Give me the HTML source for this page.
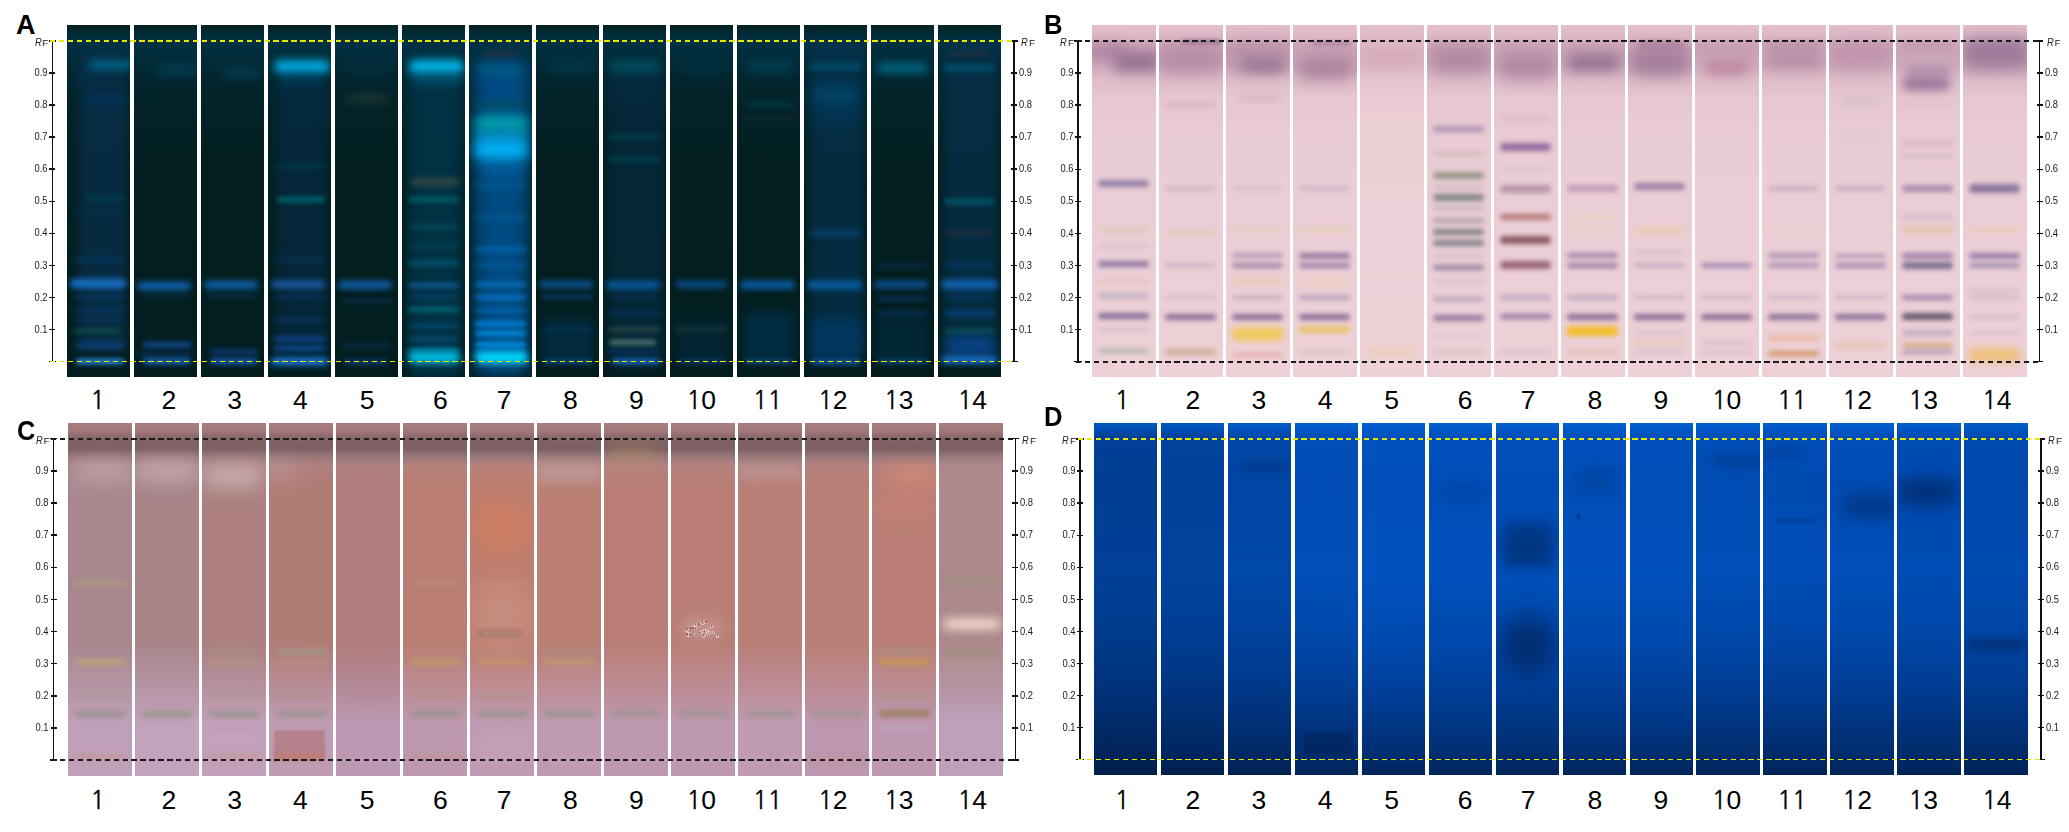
<!DOCTYPE html><html><head><meta charset="utf-8"><style>
html,body{margin:0;padding:0;background:#fff;width:2069px;height:832px;overflow:hidden;position:relative}
.ln{position:absolute;overflow:hidden}
.ln i{position:absolute;display:block}
.t{position:absolute;font-family:"Liberation Sans",Arial,sans-serif;color:#000;white-space:nowrap;line-height:1}
.num{font-size:26.5px}
.o{font-family:"NanumGothic","Liberation Sans",sans-serif;font-size:24.5px;-webkit-text-stroke:0.3px #000}
.let{font-size:27px;font-weight:bold}
.tk{font-size:10.4px;color:#1a1a1a;transform:scaleX(0.9)}
.rf{font-size:10.8px;color:#222}
.rf em{font-style:italic;display:inline-block;transform:scaleX(0.86);transform-origin:100% 50%}
.rf small{font-size:9.8px;font-style:normal;margin-left:0.9px}
.k{position:absolute;background:#111}
</style></head><body>
<div class="ln" style="left:66.50px;top:25.20px;width:63.50px;height:352.00px;background:linear-gradient(to bottom, rgb(4,34,34) 0px, rgb(2,42,52) 9px, rgb(1,50,68) 17px, rgb(2,44,58) 30px, rgb(3,36,44) 60px, rgb(3,31,33) 130px, rgb(3,30,30) 250px, rgb(3,30,32) 330px, rgb(3,27,28) 352px)">
<i style="left:12.7px;top:26.1px;width:47.6px;height:300.0px;background:rgba(8,48,80,0.7);border-radius:10.0px;filter:blur(6px)"></i>
<i style="left:22.2px;top:35.7px;width:44.5px;height:8.1px;background:rgba(0,110,150,0.9);border-radius:4.1px;filter:blur(4.25px)"></i>
<i style="left:19.1px;top:69.4px;width:41.3px;height:8.1px;background:rgba(5,60,110,0.5);border-radius:4.1px;filter:blur(4.25px)"></i>
<i style="left:19.1px;top:170.8px;width:38.1px;height:4.1px;background:rgba(0,90,100,0.5);border-radius:2.0px;filter:blur(2.55px)"></i>
<i style="left:6.4px;top:186.9px;width:50.8px;height:4.1px;background:rgba(5,60,90,0.4);border-radius:2.0px;filter:blur(2.55px)"></i>
<i style="left:6.4px;top:231.1px;width:50.8px;height:5.4px;background:rgba(5,60,110,0.5);border-radius:2.7px;filter:blur(2.55px)"></i>
<i style="left:3.2px;top:253.4px;width:55.9px;height:9.5px;background:rgba(25,115,205,1);border-radius:4.7px;filter:blur(3.4px)"></i>
<i style="left:6.4px;top:270.2px;width:50.8px;height:4.1px;background:rgba(10,60,120,0.6);border-radius:2.0px;filter:blur(2.55px)"></i>
<i style="left:6.4px;top:283.1px;width:50.8px;height:4.1px;background:rgba(10,60,120,0.6);border-radius:2.0px;filter:blur(2.55px)"></i>
<i style="left:6.4px;top:292.7px;width:50.8px;height:4.1px;background:rgba(10,60,120,0.5);border-radius:2.0px;filter:blur(2.55px)"></i>
<i style="left:6.4px;top:304.2px;width:47.6px;height:4.1px;background:rgba(20,100,80,0.7);border-radius:2.0px;filter:blur(2.55px)"></i>
<i style="left:9.5px;top:317.0px;width:47.6px;height:6.8px;background:rgba(15,75,150,0.7);border-radius:3.4px;filter:blur(3.4px)"></i>
<i style="left:9.5px;top:333.7px;width:47.6px;height:5.4px;background:rgba(40,150,240,1);border-radius:2.7px;filter:blur(2.55px)"></i>
</div>
<div class="t num" style="left:90.3px;top:387.0px"><span class="o">1</span></div>
<div class="ln" style="left:133.50px;top:25.20px;width:63.50px;height:352.00px;background:linear-gradient(to bottom, rgb(4,34,34) 0px, rgb(2,42,52) 9px, rgb(1,50,68) 17px, rgb(2,44,58) 30px, rgb(3,36,44) 60px, rgb(3,31,33) 130px, rgb(3,30,30) 250px, rgb(3,30,32) 330px, rgb(3,27,28) 352px)">
<i style="left:22.2px;top:40.5px;width:41.3px;height:8.1px;background:rgba(0,80,110,0.7);border-radius:4.1px;filter:blur(5.1px)"></i>
<i style="left:3.2px;top:256.7px;width:54.0px;height:8.1px;background:rgba(15,100,180,1);border-radius:4.1px;filter:blur(3.4px)"></i>
<i style="left:6.4px;top:270.2px;width:50.8px;height:4.1px;background:rgba(10,60,120,0.4);border-radius:2.0px;filter:blur(2.55px)"></i>
<i style="left:9.5px;top:317.0px;width:47.6px;height:5.4px;background:rgba(15,75,150,0.9);border-radius:2.7px;filter:blur(2.55px)"></i>
<i style="left:6.4px;top:327.3px;width:50.8px;height:5.4px;background:rgba(10,60,120,0.5);border-radius:2.7px;filter:blur(2.55px)"></i>
<i style="left:9.5px;top:334.0px;width:47.6px;height:4.7px;background:rgba(25,110,210,1);border-radius:2.4px;filter:blur(2.55px)"></i>
</div>
<div class="t num" style="left:161.4px;top:387.0px">2</div>
<div class="ln" style="left:200.50px;top:25.20px;width:63.50px;height:352.00px;background:linear-gradient(to bottom, rgb(4,34,34) 0px, rgb(2,42,52) 9px, rgb(1,50,68) 17px, rgb(2,44,58) 30px, rgb(3,36,44) 60px, rgb(3,31,33) 130px, rgb(3,30,30) 250px, rgb(3,30,32) 330px, rgb(3,27,28) 352px)">
<i style="left:22.2px;top:43.7px;width:38.1px;height:8.1px;background:rgba(0,75,105,0.7);border-radius:4.1px;filter:blur(5.1px)"></i>
<i style="left:3.2px;top:255.4px;width:54.0px;height:8.1px;background:rgba(15,98,175,1);border-radius:4.1px;filter:blur(3.4px)"></i>
<i style="left:6.4px;top:268.6px;width:50.8px;height:4.1px;background:rgba(10,60,120,0.5);border-radius:2.0px;filter:blur(2.55px)"></i>
<i style="left:9.5px;top:324.1px;width:47.6px;height:5.4px;background:rgba(15,65,140,0.7);border-radius:2.7px;filter:blur(2.55px)"></i>
<i style="left:9.5px;top:334.0px;width:47.6px;height:4.7px;background:rgba(25,100,200,1);border-radius:2.4px;filter:blur(2.55px)"></i>
</div>
<div class="t num" style="left:227.3px;top:387.0px">3</div>
<div class="ln" style="left:267.50px;top:25.20px;width:63.50px;height:352.00px;background:linear-gradient(to bottom, rgb(4,34,34) 0px, rgb(2,42,52) 9px, rgb(1,50,68) 17px, rgb(2,44,58) 30px, rgb(3,36,44) 60px, rgb(3,31,33) 130px, rgb(3,30,30) 250px, rgb(3,30,32) 330px, rgb(3,27,28) 352px)">
<i style="left:9.5px;top:52.1px;width:50.8px;height:280.0px;background:rgba(5,45,75,0.6);border-radius:10.0px;filter:blur(6px)"></i>
<i style="left:6.4px;top:35.3px;width:55.9px;height:12.2px;background:rgba(0,170,225,1);border-radius:6.1px;filter:blur(4.25px)"></i>
<i style="left:9.5px;top:50.1px;width:47.6px;height:8.1px;background:rgba(0,90,130,0.5);border-radius:4.1px;filter:blur(5.1px)"></i>
<i style="left:6.4px;top:138.7px;width:50.8px;height:4.1px;background:rgba(0,70,90,0.6);border-radius:2.0px;filter:blur(2.55px)"></i>
<i style="left:9.5px;top:171.7px;width:47.6px;height:5.4px;background:rgba(0,110,120,0.9);border-radius:2.7px;filter:blur(2.55px)"></i>
<i style="left:6.4px;top:231.8px;width:50.8px;height:4.1px;background:rgba(10,60,120,0.5);border-radius:2.0px;filter:blur(2.55px)"></i>
<i style="left:3.2px;top:256.1px;width:54.0px;height:6.8px;background:rgba(25,95,175,1);border-radius:3.4px;filter:blur(3.4px)"></i>
<i style="left:6.4px;top:270.2px;width:50.8px;height:4.1px;background:rgba(10,60,120,0.6);border-radius:2.0px;filter:blur(2.55px)"></i>
<i style="left:6.4px;top:292.7px;width:50.8px;height:4.1px;background:rgba(10,60,120,0.6);border-radius:2.0px;filter:blur(2.55px)"></i>
<i style="left:6.4px;top:311.3px;width:50.8px;height:5.4px;background:rgba(15,70,150,0.8);border-radius:2.7px;filter:blur(2.55px)"></i>
<i style="left:6.4px;top:320.9px;width:50.8px;height:5.4px;background:rgba(15,80,170,0.8);border-radius:2.7px;filter:blur(2.55px)"></i>
<i style="left:3.2px;top:333.0px;width:57.1px;height:6.8px;background:rgba(30,130,240,1);border-radius:3.4px;filter:blur(3.4px)"></i>
</div>
<div class="t num" style="left:292.9px;top:387.0px">4</div>
<div class="ln" style="left:334.50px;top:25.20px;width:63.50px;height:352.00px;background:linear-gradient(to bottom, rgb(4,34,34) 0px, rgb(2,42,52) 9px, rgb(1,50,68) 17px, rgb(2,44,58) 30px, rgb(3,36,44) 60px, rgb(3,31,33) 130px, rgb(3,30,30) 250px, rgb(3,30,32) 330px, rgb(3,27,28) 352px)">
<i style="left:12.7px;top:38.9px;width:44.4px;height:8.1px;background:rgba(0,60,80,0.5);border-radius:4.1px;filter:blur(5.1px)"></i>
<i style="left:12.7px;top:70.1px;width:41.3px;height:6.8px;background:rgba(40,60,55,0.8);border-radius:3.4px;filter:blur(4.25px)"></i>
<i style="left:3.2px;top:255.4px;width:54.0px;height:8.1px;background:rgba(15,95,170,1);border-radius:4.1px;filter:blur(3.4px)"></i>
<i style="left:6.4px;top:273.4px;width:50.8px;height:4.1px;background:rgba(10,60,120,0.5);border-radius:2.0px;filter:blur(2.55px)"></i>
<i style="left:6.4px;top:317.7px;width:50.8px;height:5.4px;background:rgba(10,60,120,0.4);border-radius:2.7px;filter:blur(2.55px)"></i>
<i style="left:9.5px;top:334.4px;width:44.4px;height:4.1px;background:rgba(20,80,160,0.8);border-radius:2.0px;filter:blur(2.55px)"></i>
</div>
<div class="t num" style="left:359.7px;top:387.0px">5</div>
<div class="ln" style="left:401.50px;top:25.20px;width:63.50px;height:352.00px;background:linear-gradient(to bottom, rgb(4,34,34) 0px, rgb(2,42,52) 9px, rgb(1,50,68) 17px, rgb(2,44,58) 30px, rgb(3,36,44) 60px, rgb(3,31,33) 130px, rgb(3,30,30) 250px, rgb(3,30,32) 330px, rgb(3,27,28) 352px)">
<i style="left:7.6px;top:27.1px;width:52.7px;height:330.0px;background:rgba(0,52,72,0.9);border-radius:10.0px;filter:blur(7px)"></i>
<i style="left:7.6px;top:35.3px;width:54.6px;height:12.2px;background:rgba(0,185,235,1);border-radius:6.1px;filter:blur(4.25px)"></i>
<i style="left:9.5px;top:48.5px;width:52.7px;height:8.1px;background:rgba(0,120,160,0.6);border-radius:4.1px;filter:blur(5.1px)"></i>
<i style="left:9.5px;top:153.4px;width:47.6px;height:6.8px;background:rgba(70,80,70,0.9);border-radius:3.4px;filter:blur(3.4px)"></i>
<i style="left:6.4px;top:171.7px;width:50.8px;height:5.4px;background:rgba(0,105,115,0.8);border-radius:2.7px;filter:blur(2.55px)"></i>
<i style="left:6.4px;top:199.7px;width:50.8px;height:4.1px;background:rgba(0,95,115,0.6);border-radius:2.0px;filter:blur(2.55px)"></i>
<i style="left:6.4px;top:218.9px;width:50.8px;height:4.1px;background:rgba(0,80,110,0.5);border-radius:2.0px;filter:blur(2.55px)"></i>
<i style="left:6.4px;top:235.2px;width:50.8px;height:5.4px;background:rgba(0,90,120,0.7);border-radius:2.7px;filter:blur(2.55px)"></i>
<i style="left:6.4px;top:257.7px;width:50.8px;height:5.4px;background:rgba(20,100,170,0.8);border-radius:2.7px;filter:blur(2.55px)"></i>
<i style="left:6.4px;top:270.2px;width:50.8px;height:4.1px;background:rgba(10,80,140,0.5);border-radius:2.0px;filter:blur(2.55px)"></i>
<i style="left:6.4px;top:281.7px;width:50.8px;height:5.4px;background:rgba(0,115,135,0.8);border-radius:2.7px;filter:blur(2.55px)"></i>
<i style="left:6.4px;top:299.1px;width:50.8px;height:4.1px;background:rgba(10,90,145,0.6);border-radius:2.0px;filter:blur(2.55px)"></i>
<i style="left:6.4px;top:311.9px;width:50.8px;height:4.1px;background:rgba(10,100,155,0.6);border-radius:2.0px;filter:blur(2.55px)"></i>
<i style="left:6.4px;top:322.5px;width:50.8px;height:5.4px;background:rgba(0,140,190,0.7);border-radius:2.7px;filter:blur(2.55px)"></i>
<i style="left:6.4px;top:327.2px;width:52.1px;height:10.8px;background:rgba(0,195,232,1);border-radius:5.4px;filter:blur(3.74px)"></i>
</div>
<div class="t num" style="left:433.1px;top:387.0px">6</div>
<div class="ln" style="left:468.50px;top:25.20px;width:63.50px;height:352.00px;background:linear-gradient(to bottom, rgb(4,34,34) 0px, rgb(2,42,52) 9px, rgb(1,50,68) 17px, rgb(2,44,58) 30px, rgb(3,36,44) 60px, rgb(3,31,33) 130px, rgb(3,30,30) 250px, rgb(3,30,32) 330px, rgb(3,27,28) 352px)">
<i style="left:6.4px;top:32.1px;width:54.0px;height:320.0px;background:rgba(0,80,140,0.9);border-radius:10.0px;filter:blur(8px)"></i>
<i style="left:15.9px;top:26.5px;width:34.9px;height:4.1px;background:rgba(80,40,50,0.6);border-radius:2.0px;filter:blur(2.55px)"></i>
<i style="left:9.5px;top:41.2px;width:44.4px;height:6.8px;background:rgba(0,100,130,0.8);border-radius:3.4px;filter:blur(4.25px)"></i>
<i style="left:6.4px;top:75.8px;width:50.8px;height:8.1px;background:rgba(0,80,90,0.6);border-radius:4.1px;filter:blur(2.55px)"></i>
<i style="left:5.1px;top:91.0px;width:55.2px;height:14.9px;background:rgba(0,165,175,1);border-radius:7.4px;filter:blur(5.1px)"></i>
<i style="left:5.1px;top:104.9px;width:55.2px;height:10.8px;background:rgba(0,145,185,0.9);border-radius:5.4px;filter:blur(5.1px)"></i>
<i style="left:4.4px;top:113.3px;width:55.9px;height:23.0px;background:rgba(0,172,240,1);border-radius:11.5px;filter:blur(5.95px)"></i>
<i style="left:9.5px;top:138.6px;width:47.6px;height:10.8px;background:rgba(0,100,170,0.7);border-radius:5.4px;filter:blur(5.1px)"></i>
<i style="left:6.4px;top:156.6px;width:50.8px;height:6.8px;background:rgba(0,95,160,0.5);border-radius:3.4px;filter:blur(2.55px)"></i>
<i style="left:6.4px;top:188.7px;width:50.8px;height:6.8px;background:rgba(0,90,150,0.5);border-radius:3.4px;filter:blur(2.55px)"></i>
<i style="left:6.4px;top:221.5px;width:50.8px;height:5.4px;background:rgba(0,110,190,0.7);border-radius:2.7px;filter:blur(2.55px)"></i>
<i style="left:6.4px;top:237.5px;width:50.8px;height:5.4px;background:rgba(0,100,175,0.5);border-radius:2.7px;filter:blur(2.55px)"></i>
<i style="left:6.4px;top:256.7px;width:50.8px;height:5.4px;background:rgba(10,120,205,0.8);border-radius:2.7px;filter:blur(2.55px)"></i>
<i style="left:6.4px;top:269.6px;width:50.8px;height:5.4px;background:rgba(10,120,210,0.8);border-radius:2.7px;filter:blur(2.55px)"></i>
<i style="left:6.4px;top:282.4px;width:50.8px;height:5.4px;background:rgba(0,115,200,0.6);border-radius:2.7px;filter:blur(2.55px)"></i>
<i style="left:6.4px;top:296.2px;width:50.8px;height:5.4px;background:rgba(0,130,220,0.9);border-radius:2.7px;filter:blur(2.55px)"></i>
<i style="left:6.4px;top:306.1px;width:50.8px;height:4.7px;background:rgba(0,145,232,1);border-radius:2.4px;filter:blur(2.55px)"></i>
<i style="left:6.4px;top:316.7px;width:50.8px;height:5.4px;background:rgba(0,150,240,1);border-radius:2.7px;filter:blur(2.55px)"></i>
<i style="left:6.4px;top:324.8px;width:50.8px;height:4.1px;background:rgba(0,130,220,0.8);border-radius:2.0px;filter:blur(2.55px)"></i>
<i style="left:6.4px;top:327.2px;width:52.7px;height:10.8px;background:rgba(0,222,255,1);border-radius:5.4px;filter:blur(3.74px)"></i>
</div>
<div class="t num" style="left:496.7px;top:387.0px">7</div>
<div class="ln" style="left:535.50px;top:25.20px;width:63.50px;height:352.00px;background:linear-gradient(to bottom, rgb(4,34,34) 0px, rgb(2,42,52) 9px, rgb(1,50,68) 17px, rgb(2,44,58) 30px, rgb(3,36,44) 60px, rgb(3,31,33) 130px, rgb(3,30,30) 250px, rgb(3,30,32) 330px, rgb(3,27,28) 352px)">
<i style="left:7.6px;top:291.5px;width:49.5px;height:45.0px;background:rgba(0,48,75,0.7);border-radius:6.0px;filter:blur(6px)"></i>
<i style="left:12.7px;top:37.3px;width:44.4px;height:8.1px;background:rgba(0,70,90,0.6);border-radius:4.1px;filter:blur(5.1px)"></i>
<i style="left:3.2px;top:256.1px;width:54.0px;height:6.8px;background:rgba(10,85,150,1);border-radius:3.4px;filter:blur(3.4px)"></i>
<i style="left:6.4px;top:270.2px;width:50.8px;height:4.1px;background:rgba(10,70,130,0.8);border-radius:2.0px;filter:blur(2.55px)"></i>
<i style="left:6.4px;top:302.3px;width:50.8px;height:4.1px;background:rgba(10,60,120,0.3);border-radius:2.0px;filter:blur(2.55px)"></i>
<i style="left:7.6px;top:334.7px;width:49.5px;height:3.4px;background:rgba(20,100,180,0.9);border-radius:1.7px;filter:blur(2.55px)"></i>
</div>
<div class="t num" style="left:563.0px;top:387.0px">8</div>
<div class="ln" style="left:602.50px;top:25.20px;width:63.50px;height:352.00px;background:linear-gradient(to bottom, rgb(4,34,34) 0px, rgb(2,42,52) 9px, rgb(1,50,68) 17px, rgb(2,44,58) 30px, rgb(3,36,44) 60px, rgb(3,31,33) 130px, rgb(3,30,30) 250px, rgb(3,30,32) 330px, rgb(3,27,28) 352px)">
<i style="left:6.4px;top:42.1px;width:54.0px;height:300.0px;background:rgba(5,45,70,0.6);border-radius:10.0px;filter:blur(6px)"></i>
<i style="left:6.4px;top:36.6px;width:50.8px;height:9.5px;background:rgba(0,95,120,0.9);border-radius:4.7px;filter:blur(5.1px)"></i>
<i style="left:6.4px;top:109.9px;width:50.8px;height:4.1px;background:rgba(0,80,90,0.6);border-radius:2.0px;filter:blur(2.55px)"></i>
<i style="left:6.4px;top:132.3px;width:50.8px;height:4.1px;background:rgba(0,80,90,0.6);border-radius:2.0px;filter:blur(2.55px)"></i>
<i style="left:3.2px;top:255.4px;width:54.0px;height:8.1px;background:rgba(10,90,160,1);border-radius:4.1px;filter:blur(3.4px)"></i>
<i style="left:6.4px;top:270.2px;width:50.8px;height:4.1px;background:rgba(10,60,120,0.4);border-radius:2.0px;filter:blur(2.55px)"></i>
<i style="left:6.4px;top:286.3px;width:50.8px;height:4.1px;background:rgba(10,60,120,0.5);border-radius:2.0px;filter:blur(2.55px)"></i>
<i style="left:6.4px;top:302.3px;width:50.8px;height:4.1px;background:rgba(60,90,80,0.6);border-radius:2.0px;filter:blur(2.55px)"></i>
<i style="left:6.4px;top:314.5px;width:47.6px;height:5.4px;background:rgba(80,120,115,1);border-radius:2.7px;filter:blur(2.55px)"></i>
<i style="left:6.4px;top:324.8px;width:50.8px;height:4.1px;background:rgba(10,60,120,0.6);border-radius:2.0px;filter:blur(2.55px)"></i>
<i style="left:9.5px;top:334.0px;width:47.6px;height:4.7px;background:rgba(25,110,210,1);border-radius:2.4px;filter:blur(2.55px)"></i>
</div>
<div class="t num" style="left:629.0px;top:387.0px">9</div>
<div class="ln" style="left:669.50px;top:25.20px;width:63.50px;height:352.00px;background:linear-gradient(to bottom, rgb(4,34,34) 0px, rgb(2,42,52) 9px, rgb(1,50,68) 17px, rgb(2,44,58) 30px, rgb(3,36,44) 60px, rgb(3,31,33) 130px, rgb(3,30,30) 250px, rgb(3,30,32) 330px, rgb(3,27,28) 352px)">
<i style="left:7.6px;top:291.5px;width:49.5px;height:45.0px;background:rgba(0,42,65,0.6);border-radius:6.0px;filter:blur(6px)"></i>
<i style="left:9.5px;top:37.3px;width:47.6px;height:8.1px;background:rgba(0,60,80,0.5);border-radius:4.1px;filter:blur(5.1px)"></i>
<i style="left:6.4px;top:256.1px;width:50.8px;height:6.8px;background:rgba(10,80,145,1);border-radius:3.4px;filter:blur(3.4px)"></i>
<i style="left:6.4px;top:302.3px;width:50.8px;height:4.1px;background:rgba(40,70,60,0.5);border-radius:2.0px;filter:blur(2.55px)"></i>
<i style="left:7.6px;top:334.7px;width:49.5px;height:3.4px;background:rgba(15,80,150,0.8);border-radius:1.7px;filter:blur(2.55px)"></i>
</div>
<div class="t num" style="left:686.5px;top:387.0px"><span class="o">1</span>0</div>
<div class="ln" style="left:736.50px;top:25.20px;width:63.50px;height:352.00px;background:linear-gradient(to bottom, rgb(4,34,34) 0px, rgb(2,42,52) 9px, rgb(1,50,68) 17px, rgb(2,44,58) 30px, rgb(3,36,44) 60px, rgb(3,31,33) 130px, rgb(3,30,30) 250px, rgb(3,30,32) 330px, rgb(3,27,28) 352px)">
<i style="left:7.6px;top:285.7px;width:49.5px;height:50.0px;background:rgba(0,50,80,0.7);border-radius:6.0px;filter:blur(6px)"></i>
<i style="left:9.5px;top:37.3px;width:47.6px;height:8.1px;background:rgba(0,80,110,0.7);border-radius:4.1px;filter:blur(5.1px)"></i>
<i style="left:9.5px;top:77.1px;width:47.6px;height:5.4px;background:rgba(0,75,90,0.5);border-radius:2.7px;filter:blur(3.4px)"></i>
<i style="left:6.4px;top:90.6px;width:50.8px;height:4.1px;background:rgba(40,50,50,0.4);border-radius:2.0px;filter:blur(2.55px)"></i>
<i style="left:3.2px;top:255.4px;width:55.2px;height:8.1px;background:rgba(10,95,170,1);border-radius:4.1px;filter:blur(3.4px)"></i>
<i style="left:7.6px;top:334.7px;width:49.5px;height:3.4px;background:rgba(20,100,180,0.9);border-radius:1.7px;filter:blur(2.55px)"></i>
</div>
<div class="t num" style="left:752.7px;top:387.0px"><span class="o">1</span><span class="o">1</span></div>
<div class="ln" style="left:803.50px;top:25.20px;width:63.50px;height:352.00px;background:linear-gradient(to bottom, rgb(4,34,34) 0px, rgb(2,42,52) 9px, rgb(1,50,68) 17px, rgb(2,44,58) 30px, rgb(3,36,44) 60px, rgb(3,31,33) 130px, rgb(3,30,30) 250px, rgb(3,30,32) 330px, rgb(3,27,28) 352px)">
<i style="left:6.4px;top:16.1px;width:54.0px;height:320.0px;background:rgba(5,50,80,0.7);border-radius:10.0px;filter:blur(6px)"></i>
<i style="left:6.4px;top:37.3px;width:50.8px;height:8.1px;background:rgba(0,80,110,0.7);border-radius:4.1px;filter:blur(2.55px)"></i>
<i style="left:6.4px;top:60.8px;width:50.8px;height:18.9px;background:rgba(0,80,120,0.7);border-radius:9.5px;filter:blur(6.8px)"></i>
<i style="left:6.4px;top:87.3px;width:50.8px;height:10.8px;background:rgba(0,70,110,0.5);border-radius:5.4px;filter:blur(6.8px)"></i>
<i style="left:6.4px;top:205.4px;width:50.8px;height:5.4px;background:rgba(10,70,125,0.8);border-radius:2.7px;filter:blur(2.55px)"></i>
<i style="left:3.2px;top:255.4px;width:55.2px;height:8.1px;background:rgba(10,95,170,1);border-radius:4.1px;filter:blur(3.4px)"></i>
<i style="left:7.6px;top:294.0px;width:49.5px;height:40.0px;background:rgba(0,60,110,0.7);border-radius:6.0px;filter:blur(6px)"></i>
<i style="left:7.6px;top:334.4px;width:49.5px;height:4.1px;background:rgba(20,110,200,0.9);border-radius:2.0px;filter:blur(2.55px)"></i>
</div>
<div class="t num" style="left:817.9px;top:387.0px"><span class="o">1</span>2</div>
<div class="ln" style="left:870.50px;top:25.20px;width:63.50px;height:352.00px;background:linear-gradient(to bottom, rgb(4,34,34) 0px, rgb(2,42,52) 9px, rgb(1,50,68) 17px, rgb(2,44,58) 30px, rgb(3,36,44) 60px, rgb(3,31,33) 130px, rgb(3,30,30) 250px, rgb(3,30,32) 330px, rgb(3,27,28) 352px)">
<i style="left:6.4px;top:38.2px;width:50.8px;height:9.5px;background:rgba(0,110,140,0.9);border-radius:4.7px;filter:blur(4.25px)"></i>
<i style="left:6.4px;top:237.5px;width:50.8px;height:5.4px;background:rgba(10,60,120,0.4);border-radius:2.7px;filter:blur(2.55px)"></i>
<i style="left:3.2px;top:256.1px;width:54.0px;height:6.8px;background:rgba(10,85,155,1);border-radius:3.4px;filter:blur(3.4px)"></i>
<i style="left:6.4px;top:271.8px;width:50.8px;height:4.1px;background:rgba(10,60,120,0.7);border-radius:2.0px;filter:blur(2.55px)"></i>
<i style="left:6.4px;top:286.3px;width:50.8px;height:4.1px;background:rgba(10,60,120,0.6);border-radius:2.0px;filter:blur(2.55px)"></i>
<i style="left:7.6px;top:291.5px;width:49.5px;height:45.0px;background:rgba(0,45,70,0.6);border-radius:6.0px;filter:blur(6px)"></i>
<i style="left:7.6px;top:334.7px;width:49.5px;height:3.4px;background:rgba(20,100,180,0.9);border-radius:1.7px;filter:blur(2.55px)"></i>
</div>
<div class="t num" style="left:884.0px;top:387.0px"><span class="o">1</span>3</div>
<div class="ln" style="left:937.50px;top:25.20px;width:63.50px;height:352.00px;background:linear-gradient(to bottom, rgb(4,34,34) 0px, rgb(2,42,52) 9px, rgb(1,50,68) 17px, rgb(2,44,58) 30px, rgb(3,36,44) 60px, rgb(3,31,33) 130px, rgb(3,30,30) 250px, rgb(3,30,32) 330px, rgb(3,27,28) 352px)">
<i style="left:6.4px;top:16.1px;width:54.0px;height:320.0px;background:rgba(5,50,80,0.7);border-radius:10.0px;filter:blur(6px)"></i>
<i style="left:12.7px;top:26.5px;width:38.1px;height:4.1px;background:rgba(70,48,50,0.5);border-radius:2.0px;filter:blur(2.55px)"></i>
<i style="left:6.4px;top:38.9px;width:50.8px;height:8.1px;background:rgba(0,85,110,0.7);border-radius:4.1px;filter:blur(2.55px)"></i>
<i style="left:6.4px;top:173.4px;width:50.8px;height:5.4px;background:rgba(0,100,120,0.8);border-radius:2.7px;filter:blur(2.55px)"></i>
<i style="left:6.4px;top:206.1px;width:50.8px;height:4.1px;background:rgba(70,50,50,0.4);border-radius:2.0px;filter:blur(2.55px)"></i>
<i style="left:6.4px;top:237.5px;width:50.8px;height:5.4px;background:rgba(10,60,120,0.5);border-radius:2.7px;filter:blur(2.55px)"></i>
<i style="left:3.2px;top:254.7px;width:57.1px;height:9.5px;background:rgba(15,100,180,1);border-radius:4.7px;filter:blur(3.4px)"></i>
<i style="left:6.4px;top:270.2px;width:50.8px;height:4.1px;background:rgba(10,60,120,0.6);border-radius:2.0px;filter:blur(2.55px)"></i>
<i style="left:6.4px;top:285.6px;width:50.8px;height:5.4px;background:rgba(10,70,140,0.8);border-radius:2.7px;filter:blur(2.55px)"></i>
<i style="left:6.4px;top:303.9px;width:50.8px;height:4.1px;background:rgba(20,110,90,0.7);border-radius:2.0px;filter:blur(2.55px)"></i>
<i style="left:6.4px;top:310.9px;width:52.1px;height:18.9px;background:rgba(10,70,150,0.8);border-radius:9.5px;filter:blur(5.1px)"></i>
<i style="left:3.2px;top:332.1px;width:57.1px;height:5.4px;background:rgba(30,130,240,1);border-radius:2.7px;filter:blur(3.4px)"></i>
</div>
<div class="t num" style="left:957.4px;top:387.0px"><span class="o">1</span>4</div>
<div class="t let" style="left:16.1px;top:11.7px;transform:scaleX(1.0);transform-origin:0 0">A</div>
<div class="k" style="left:51.55px;top:40.90px;width:1.5px;height:320.70px"></div>
<div class="k" style="left:48.70px;top:40.15px;width:7.2px;height:1.5px"></div>
<div class="k" style="left:48.70px;top:360.85px;width:7.2px;height:1.5px"></div>
<div class="k" style="left:49.30px;top:328.83px;width:6px;height:1.4px"></div>
<div class="t tk" style="left:25.0px;width:22.5px;text-align:right;top:324.6px;transform-origin:100% 50%">0.1</div>
<div class="k" style="left:49.30px;top:296.76px;width:6px;height:1.4px"></div>
<div class="t tk" style="left:25.0px;width:22.5px;text-align:right;top:292.6px;transform-origin:100% 50%">0.2</div>
<div class="k" style="left:49.30px;top:264.69px;width:6px;height:1.4px"></div>
<div class="t tk" style="left:25.0px;width:22.5px;text-align:right;top:260.5px;transform-origin:100% 50%">0.3</div>
<div class="k" style="left:49.30px;top:232.62px;width:6px;height:1.4px"></div>
<div class="t tk" style="left:25.0px;width:22.5px;text-align:right;top:228.4px;transform-origin:100% 50%">0.4</div>
<div class="k" style="left:49.30px;top:200.55px;width:6px;height:1.4px"></div>
<div class="t tk" style="left:25.0px;width:22.5px;text-align:right;top:196.3px;transform-origin:100% 50%">0.5</div>
<div class="k" style="left:49.30px;top:168.48px;width:6px;height:1.4px"></div>
<div class="t tk" style="left:25.0px;width:22.5px;text-align:right;top:164.3px;transform-origin:100% 50%">0.6</div>
<div class="k" style="left:49.30px;top:136.41px;width:6px;height:1.4px"></div>
<div class="t tk" style="left:25.0px;width:22.5px;text-align:right;top:132.2px;transform-origin:100% 50%">0.7</div>
<div class="k" style="left:49.30px;top:104.34px;width:6px;height:1.4px"></div>
<div class="t tk" style="left:25.0px;width:22.5px;text-align:right;top:100.1px;transform-origin:100% 50%">0.8</div>
<div class="k" style="left:49.30px;top:72.27px;width:6px;height:1.4px"></div>
<div class="t tk" style="left:25.0px;width:22.5px;text-align:right;top:68.1px;transform-origin:100% 50%">0.9</div>
<div class="t rf" style="left:24.3px;width:24px;text-align:right;top:36.9px"><em>R</em><small>F</small></div>
<div class="k" style="left:1013.45px;top:40.90px;width:1.5px;height:320.70px"></div>
<div class="k" style="left:1010.60px;top:40.15px;width:7.2px;height:1.5px"></div>
<div class="k" style="left:1010.60px;top:360.85px;width:7.2px;height:1.5px"></div>
<div class="k" style="left:1011.20px;top:328.83px;width:6px;height:1.4px"></div>
<div class="t tk" style="left:1019.0px;top:324.6px;transform-origin:0 50%">0.1</div>
<div class="k" style="left:1011.20px;top:296.76px;width:6px;height:1.4px"></div>
<div class="t tk" style="left:1019.0px;top:292.6px;transform-origin:0 50%">0.2</div>
<div class="k" style="left:1011.20px;top:264.69px;width:6px;height:1.4px"></div>
<div class="t tk" style="left:1019.0px;top:260.5px;transform-origin:0 50%">0.3</div>
<div class="k" style="left:1011.20px;top:232.62px;width:6px;height:1.4px"></div>
<div class="t tk" style="left:1019.0px;top:228.4px;transform-origin:0 50%">0.4</div>
<div class="k" style="left:1011.20px;top:200.55px;width:6px;height:1.4px"></div>
<div class="t tk" style="left:1019.0px;top:196.3px;transform-origin:0 50%">0.5</div>
<div class="k" style="left:1011.20px;top:168.48px;width:6px;height:1.4px"></div>
<div class="t tk" style="left:1019.0px;top:164.3px;transform-origin:0 50%">0.6</div>
<div class="k" style="left:1011.20px;top:136.41px;width:6px;height:1.4px"></div>
<div class="t tk" style="left:1019.0px;top:132.2px;transform-origin:0 50%">0.7</div>
<div class="k" style="left:1011.20px;top:104.34px;width:6px;height:1.4px"></div>
<div class="t tk" style="left:1019.0px;top:100.1px;transform-origin:0 50%">0.8</div>
<div class="k" style="left:1011.20px;top:72.27px;width:6px;height:1.4px"></div>
<div class="t tk" style="left:1019.0px;top:68.1px;transform-origin:0 50%">0.9</div>
<div class="t rf" style="left:1020.2px;top:36.9px"><em>R</em><small>F</small></div>
<div class="ln" style="left:1092.00px;top:25.40px;width:63.60px;height:351.50px;background:linear-gradient(to bottom, rgb(228,190,203) 0px, rgb(222,183,198) 13px, rgb(208,168,187) 17px, rgb(203,163,183) 26px, rgb(208,170,188) 40px, rgb(222,188,201) 55px, rgb(231,200,209) 75px, rgb(235,206,213) 160px, rgb(237,209,215) 352px)">
<i style="left:22.3px;top:26.6px;width:46.4px;height:19.6px;background:rgba(145,108,142,0.9);border-radius:7.0px;filter:blur(6.4px)"></i>
<i style="left:-6.4px;top:18.3px;width:41.3px;height:16.8px;background:rgba(160,118,150,0.7);border-radius:8.4px;filter:blur(6.4px)"></i>
<i style="left:6.4px;top:154.8px;width:50.9px;height:7.0px;background:rgba(150,128,168,1);border-radius:3.5px;filter:blur(2.4000000000000004px)"></i>
<i style="left:6.4px;top:202.7px;width:50.9px;height:4.2px;background:rgba(205,200,160,0.6);border-radius:2.1px;filter:blur(2.4000000000000004px)"></i>
<i style="left:6.4px;top:218.7px;width:50.9px;height:4.2px;background:rgba(200,175,200,0.5);border-radius:2.1px;filter:blur(2.4000000000000004px)"></i>
<i style="left:6.4px;top:235.3px;width:50.9px;height:6.3px;background:rgba(140,118,160,1);border-radius:3.1px;filter:blur(2.4000000000000004px)"></i>
<i style="left:6.4px;top:254.0px;width:50.9px;height:4.2px;background:rgba(225,185,180,0.5);border-radius:2.1px;filter:blur(2.4000000000000004px)"></i>
<i style="left:6.4px;top:268.4px;width:50.9px;height:4.2px;background:rgba(160,150,185,0.7);border-radius:2.1px;filter:blur(2.4000000000000004px)"></i>
<i style="left:6.4px;top:287.6px;width:50.9px;height:5.6px;background:rgba(130,108,150,1);border-radius:2.8px;filter:blur(2.4000000000000004px)"></i>
<i style="left:6.4px;top:302.1px;width:50.9px;height:4.2px;background:rgba(200,180,200,0.5);border-radius:2.1px;filter:blur(2.4000000000000004px)"></i>
<i style="left:6.4px;top:323.6px;width:50.9px;height:4.2px;background:rgba(160,170,160,0.8);border-radius:2.1px;filter:blur(2.4000000000000004px)"></i>
</div>
<div class="t num" style="left:1114.8px;top:387.0px"><span class="o">1</span></div>
<div class="ln" style="left:1159.00px;top:25.40px;width:63.60px;height:351.50px;background:linear-gradient(to bottom, rgb(228,190,203) 0px, rgb(222,183,198) 13px, rgb(208,168,187) 17px, rgb(203,163,183) 26px, rgb(208,170,188) 40px, rgb(222,188,201) 55px, rgb(231,200,209) 75px, rgb(235,206,213) 160px, rgb(237,209,215) 352px)">
<i style="left:22.3px;top:14.7px;width:40.1px;height:3.5px;background:rgba(120,80,110,0.7);border-radius:1.8px;filter:blur(1.92px)"></i>
<i style="left:-3.2px;top:20.7px;width:70.0px;height:28.0px;background:rgba(178,132,160,0.75);border-radius:14.0px;filter:blur(8.0px)"></i>
<i style="left:6.4px;top:76.9px;width:50.9px;height:5.6px;background:rgba(215,170,190,0.6);border-radius:2.8px;filter:blur(2.4000000000000004px)"></i>
<i style="left:6.4px;top:160.3px;width:50.9px;height:5.6px;background:rgba(195,165,192,0.6);border-radius:2.8px;filter:blur(2.4000000000000004px)"></i>
<i style="left:6.4px;top:205.9px;width:50.9px;height:4.2px;background:rgba(215,205,165,0.6);border-radius:2.1px;filter:blur(2.4000000000000004px)"></i>
<i style="left:6.4px;top:238.0px;width:50.9px;height:4.2px;background:rgba(185,165,192,0.6);border-radius:2.1px;filter:blur(2.4000000000000004px)"></i>
<i style="left:6.4px;top:270.0px;width:50.9px;height:4.2px;background:rgba(195,175,195,0.5);border-radius:2.1px;filter:blur(2.4000000000000004px)"></i>
<i style="left:6.4px;top:288.2px;width:50.9px;height:6.3px;background:rgba(140,108,150,1);border-radius:3.1px;filter:blur(2.4000000000000004px)"></i>
<i style="left:6.4px;top:323.9px;width:50.9px;height:5.6px;background:rgba(205,172,150,1);border-radius:2.8px;filter:blur(2.4000000000000004px)"></i>
</div>
<div class="t num" style="left:1185.6px;top:387.0px">2</div>
<div class="ln" style="left:1226.00px;top:25.40px;width:63.60px;height:351.50px;background:linear-gradient(to bottom, rgb(228,190,203) 0px, rgb(222,183,198) 13px, rgb(208,168,187) 17px, rgb(203,163,183) 26px, rgb(208,170,188) 40px, rgb(222,188,201) 55px, rgb(231,200,209) 75px, rgb(235,206,213) 160px, rgb(237,209,215) 352px)">
<i style="left:15.9px;top:31.9px;width:42.6px;height:14.0px;background:rgba(132,102,136,0.95);border-radius:5.0px;filter:blur(5.6000000000000005px)"></i>
<i style="left:-3.2px;top:16.1px;width:70.0px;height:30.8px;background:rgba(175,135,160,0.6);border-radius:15.4px;filter:blur(8.0px)"></i>
<i style="left:12.7px;top:69.7px;width:41.3px;height:7.0px;background:rgba(215,170,190,0.6);border-radius:3.5px;filter:blur(3.2px)"></i>
<i style="left:6.4px;top:160.3px;width:50.9px;height:5.6px;background:rgba(205,175,195,0.5);border-radius:2.8px;filter:blur(2.4000000000000004px)"></i>
<i style="left:6.4px;top:202.7px;width:50.9px;height:4.2px;background:rgba(220,205,170,0.5);border-radius:2.1px;filter:blur(2.4000000000000004px)"></i>
<i style="left:6.4px;top:228.0px;width:50.9px;height:4.9px;background:rgba(170,140,180,0.8);border-radius:2.4px;filter:blur(2.4000000000000004px)"></i>
<i style="left:6.4px;top:237.6px;width:50.9px;height:4.9px;background:rgba(150,125,160,0.9);border-radius:2.4px;filter:blur(2.4000000000000004px)"></i>
<i style="left:6.4px;top:251.9px;width:50.9px;height:8.4px;background:rgba(235,200,175,0.6);border-radius:4.2px;filter:blur(2.4000000000000004px)"></i>
<i style="left:6.4px;top:270.0px;width:50.9px;height:4.2px;background:rgba(180,160,180,0.6);border-radius:2.1px;filter:blur(2.4000000000000004px)"></i>
<i style="left:6.4px;top:288.2px;width:50.9px;height:6.3px;background:rgba(140,108,150,1);border-radius:3.1px;filter:blur(2.4000000000000004px)"></i>
<i style="left:5.1px;top:301.4px;width:53.4px;height:14.0px;background:rgba(240,200,95,1);border-radius:7.0px;filter:blur(3.2px)"></i>
<i style="left:6.4px;top:327.8px;width:50.9px;height:4.2px;background:rgba(230,150,150,0.7);border-radius:2.1px;filter:blur(2.4000000000000004px)"></i>
</div>
<div class="t num" style="left:1251.5px;top:387.0px">3</div>
<div class="ln" style="left:1293.00px;top:25.40px;width:63.60px;height:351.50px;background:linear-gradient(to bottom, rgb(228,190,203) 0px, rgb(222,183,198) 13px, rgb(208,168,187) 17px, rgb(203,163,183) 26px, rgb(208,170,188) 40px, rgb(222,188,201) 55px, rgb(231,200,209) 75px, rgb(235,206,213) 160px, rgb(237,209,215) 352px)">
<i style="left:19.1px;top:16.3px;width:39.4px;height:3.5px;background:rgba(140,105,138,0.7);border-radius:1.8px;filter:blur(1.92px)"></i>
<i style="left:3.2px;top:31.6px;width:59.1px;height:22.4px;background:rgba(165,122,150,0.85);border-radius:11.2px;filter:blur(7.2px)"></i>
<i style="left:6.4px;top:160.3px;width:50.9px;height:5.6px;background:rgba(195,162,192,0.6);border-radius:2.8px;filter:blur(2.4000000000000004px)"></i>
<i style="left:6.4px;top:202.7px;width:50.9px;height:4.2px;background:rgba(222,202,150,0.5);border-radius:2.1px;filter:blur(2.4000000000000004px)"></i>
<i style="left:6.4px;top:227.6px;width:50.9px;height:5.6px;background:rgba(150,118,160,1);border-radius:2.8px;filter:blur(2.4000000000000004px)"></i>
<i style="left:6.4px;top:237.6px;width:50.9px;height:4.9px;background:rgba(150,125,165,1);border-radius:2.4px;filter:blur(2.4000000000000004px)"></i>
<i style="left:6.4px;top:251.9px;width:50.9px;height:8.4px;background:rgba(235,205,185,0.5);border-radius:4.2px;filter:blur(2.4000000000000004px)"></i>
<i style="left:6.4px;top:270.0px;width:50.9px;height:4.2px;background:rgba(170,150,180,0.8);border-radius:2.1px;filter:blur(2.4000000000000004px)"></i>
<i style="left:6.4px;top:288.2px;width:50.9px;height:6.3px;background:rgba(140,108,150,1);border-radius:3.1px;filter:blur(2.4000000000000004px)"></i>
<i style="left:6.4px;top:300.7px;width:50.9px;height:7.0px;background:rgba(235,195,110,1);border-radius:3.5px;filter:blur(2.4000000000000004px)"></i>
<i style="left:6.4px;top:324.6px;width:50.9px;height:4.2px;background:rgba(205,185,165,0.5);border-radius:2.1px;filter:blur(2.4000000000000004px)"></i>
</div>
<div class="t num" style="left:1317.8px;top:387.0px">4</div>
<div class="ln" style="left:1360.00px;top:25.40px;width:63.60px;height:351.50px;background:linear-gradient(to bottom, rgb(228,192,204) 0px, rgb(224,186,200) 13px, rgb(222,184,198) 30px, rgb(230,198,207) 55px, rgb(236,206,213) 90px, rgb(238,210,216) 352px)">
<i style="left:-3.2px;top:21.9px;width:70.0px;height:22.4px;background:rgba(208,162,182,0.6);border-radius:11.2px;filter:blur(8.0px)"></i>
<i style="left:6.4px;top:321.1px;width:50.9px;height:11.2px;background:rgba(232,205,180,0.6);border-radius:5.6px;filter:blur(2.4000000000000004px)"></i>
</div>
<div class="t num" style="left:1384.2px;top:387.0px">5</div>
<div class="ln" style="left:1427.00px;top:25.40px;width:63.60px;height:351.50px;background:linear-gradient(to bottom, rgb(228,190,203) 0px, rgb(222,183,198) 13px, rgb(208,168,187) 17px, rgb(203,163,183) 26px, rgb(208,170,188) 40px, rgb(222,188,201) 55px, rgb(231,200,209) 75px, rgb(235,206,213) 160px, rgb(237,209,215) 352px)">
<i style="left:3.2px;top:22.1px;width:60.4px;height:25.2px;background:rgba(170,128,156,0.8);border-radius:12.6px;filter:blur(8.0px)"></i>
<i style="left:6.4px;top:100.9px;width:50.9px;height:5.6px;background:rgba(180,148,185,1);border-radius:2.8px;filter:blur(2.4000000000000004px)"></i>
<i style="left:6.4px;top:126.6px;width:50.9px;height:4.2px;background:rgba(195,172,168,0.6);border-radius:2.1px;filter:blur(2.4000000000000004px)"></i>
<i style="left:6.4px;top:146.7px;width:50.9px;height:7.0px;background:rgba(150,150,135,1);border-radius:3.5px;filter:blur(2.4000000000000004px)"></i>
<i style="left:6.4px;top:159.4px;width:50.9px;height:4.2px;background:rgba(190,175,175,0.6);border-radius:2.1px;filter:blur(2.4000000000000004px)"></i>
<i style="left:6.4px;top:168.6px;width:50.9px;height:7.0px;background:rgba(128,133,133,1);border-radius:3.5px;filter:blur(2.4000000000000004px)"></i>
<i style="left:6.4px;top:180.2px;width:50.9px;height:4.2px;background:rgba(180,170,170,0.7);border-radius:2.1px;filter:blur(2.4000000000000004px)"></i>
<i style="left:6.4px;top:193.0px;width:50.9px;height:4.2px;background:rgba(160,150,155,0.8);border-radius:2.1px;filter:blur(2.4000000000000004px)"></i>
<i style="left:6.4px;top:203.5px;width:50.9px;height:6.3px;background:rgba(128,128,133,1);border-radius:3.1px;filter:blur(2.4000000000000004px)"></i>
<i style="left:6.4px;top:214.8px;width:50.9px;height:5.6px;background:rgba(128,128,138,1);border-radius:2.8px;filter:blur(2.4000000000000004px)"></i>
<i style="left:6.4px;top:228.3px;width:50.9px;height:4.2px;background:rgba(190,175,185,0.5);border-radius:2.1px;filter:blur(2.4000000000000004px)"></i>
<i style="left:6.4px;top:239.5px;width:50.9px;height:5.6px;background:rgba(145,128,160,1);border-radius:2.8px;filter:blur(2.4000000000000004px)"></i>
<i style="left:6.4px;top:254.0px;width:50.9px;height:4.2px;background:rgba(200,185,195,0.5);border-radius:2.1px;filter:blur(2.4000000000000004px)"></i>
<i style="left:6.4px;top:271.6px;width:50.9px;height:4.2px;background:rgba(170,150,180,0.9);border-radius:2.1px;filter:blur(2.4000000000000004px)"></i>
<i style="left:6.4px;top:289.6px;width:50.9px;height:5.6px;background:rgba(150,118,160,1);border-radius:2.8px;filter:blur(2.4000000000000004px)"></i>
<i style="left:6.4px;top:308.5px;width:50.9px;height:4.2px;background:rgba(210,190,200,0.5);border-radius:2.1px;filter:blur(2.4000000000000004px)"></i>
<i style="left:6.4px;top:324.6px;width:50.9px;height:4.2px;background:rgba(200,180,180,0.5);border-radius:2.1px;filter:blur(2.4000000000000004px)"></i>
</div>
<div class="t num" style="left:1457.8px;top:387.0px">6</div>
<div class="ln" style="left:1494.00px;top:25.40px;width:63.60px;height:351.50px;background:linear-gradient(to bottom, rgb(228,190,203) 0px, rgb(222,183,198) 13px, rgb(208,168,187) 17px, rgb(203,163,183) 26px, rgb(208,170,188) 40px, rgb(222,188,201) 55px, rgb(231,200,209) 75px, rgb(235,206,213) 160px, rgb(237,209,215) 352px)">
<i style="left:3.2px;top:28.6px;width:60.4px;height:25.2px;background:rgba(168,125,155,0.8);border-radius:12.6px;filter:blur(8.0px)"></i>
<i style="left:6.4px;top:89.7px;width:50.9px;height:5.6px;background:rgba(222,182,202,0.7);border-radius:2.8px;filter:blur(2.4000000000000004px)"></i>
<i style="left:6.4px;top:117.2px;width:50.9px;height:8.4px;background:rgba(148,108,160,1);border-radius:4.2px;filter:blur(2.4000000000000004px)"></i>
<i style="left:6.4px;top:141.7px;width:50.9px;height:4.2px;background:rgba(215,190,205,0.6);border-radius:2.1px;filter:blur(2.4000000000000004px)"></i>
<i style="left:6.4px;top:159.5px;width:50.9px;height:8.4px;background:rgba(180,148,170,1);border-radius:4.2px;filter:blur(2.4000000000000004px)"></i>
<i style="left:6.4px;top:188.8px;width:50.9px;height:6.3px;background:rgba(182,120,120,1);border-radius:3.1px;filter:blur(2.4000000000000004px)"></i>
<i style="left:6.4px;top:210.2px;width:50.9px;height:8.4px;background:rgba(140,88,100,1);border-radius:4.2px;filter:blur(2.4000000000000004px)"></i>
<i style="left:6.4px;top:235.2px;width:50.9px;height:8.4px;background:rgba(150,98,120,1);border-radius:4.2px;filter:blur(2.4000000000000004px)"></i>
<i style="left:6.4px;top:270.0px;width:50.9px;height:4.2px;background:rgba(180,160,190,0.8);border-radius:2.1px;filter:blur(2.4000000000000004px)"></i>
<i style="left:6.4px;top:288.9px;width:50.9px;height:4.9px;background:rgba(150,118,160,1);border-radius:2.4px;filter:blur(2.4000000000000004px)"></i>
<i style="left:6.4px;top:324.6px;width:50.9px;height:4.2px;background:rgba(200,180,190,0.5);border-radius:2.1px;filter:blur(2.4000000000000004px)"></i>
</div>
<div class="t num" style="left:1520.8px;top:387.0px">7</div>
<div class="ln" style="left:1561.00px;top:25.40px;width:63.60px;height:351.50px;background:linear-gradient(to bottom, rgb(228,190,203) 0px, rgb(222,183,198) 13px, rgb(208,168,187) 17px, rgb(203,163,183) 26px, rgb(208,170,188) 40px, rgb(222,188,201) 55px, rgb(231,200,209) 75px, rgb(235,206,213) 160px, rgb(237,209,215) 352px)">
<i style="left:5.1px;top:28.9px;width:55.3px;height:16.8px;background:rgba(145,110,142,0.95);border-radius:8.4px;filter:blur(6.4px)"></i>
<i style="left:6.4px;top:159.9px;width:50.9px;height:6.3px;background:rgba(190,150,185,0.9);border-radius:3.1px;filter:blur(2.4000000000000004px)"></i>
<i style="left:6.4px;top:189.8px;width:50.9px;height:4.2px;background:rgba(232,212,180,0.5);border-radius:2.1px;filter:blur(2.4000000000000004px)"></i>
<i style="left:6.4px;top:202.7px;width:50.9px;height:4.2px;background:rgba(232,212,180,0.5);border-radius:2.1px;filter:blur(2.4000000000000004px)"></i>
<i style="left:6.4px;top:228.0px;width:50.9px;height:4.9px;background:rgba(160,128,170,1);border-radius:2.4px;filter:blur(2.4000000000000004px)"></i>
<i style="left:6.4px;top:237.6px;width:50.9px;height:4.9px;background:rgba(150,125,165,1);border-radius:2.4px;filter:blur(2.4000000000000004px)"></i>
<i style="left:6.4px;top:270.0px;width:50.9px;height:4.2px;background:rgba(180,160,185,0.8);border-radius:2.1px;filter:blur(2.4000000000000004px)"></i>
<i style="left:6.4px;top:288.6px;width:50.9px;height:5.6px;background:rgba(140,108,150,1);border-radius:2.8px;filter:blur(2.4000000000000004px)"></i>
<i style="left:5.1px;top:300.6px;width:53.4px;height:9.8px;background:rgba(242,190,45,1);border-radius:4.9px;filter:blur(2.4000000000000004px)"></i>
<i style="left:6.4px;top:323.9px;width:50.9px;height:5.6px;background:rgba(222,182,170,0.6);border-radius:2.8px;filter:blur(2.4000000000000004px)"></i>
</div>
<div class="t num" style="left:1587.5px;top:387.0px">8</div>
<div class="ln" style="left:1628.00px;top:25.40px;width:63.60px;height:351.50px;background:linear-gradient(to bottom, rgb(228,190,203) 0px, rgb(222,183,198) 13px, rgb(208,168,187) 17px, rgb(203,163,183) 26px, rgb(208,170,188) 40px, rgb(222,188,201) 55px, rgb(231,200,209) 75px, rgb(235,206,213) 160px, rgb(237,209,215) 352px)">
<i style="left:9.5px;top:16.8px;width:47.7px;height:7.0px;background:rgba(165,125,155,0.8);border-radius:3.5px;filter:blur(3.2px)"></i>
<i style="left:0.0px;top:22.4px;width:63.6px;height:28.0px;background:rgba(158,118,148,0.85);border-radius:14.0px;filter:blur(8.0px)"></i>
<i style="left:6.4px;top:158.0px;width:50.9px;height:7.0px;background:rgba(158,126,163,1);border-radius:3.5px;filter:blur(2.4000000000000004px)"></i>
<i style="left:6.4px;top:201.3px;width:50.9px;height:7.0px;background:rgba(235,200,160,0.6);border-radius:3.5px;filter:blur(2.4000000000000004px)"></i>
<i style="left:6.4px;top:225.1px;width:50.9px;height:4.2px;background:rgba(200,180,200,0.5);border-radius:2.1px;filter:blur(2.4000000000000004px)"></i>
<i style="left:6.4px;top:238.0px;width:50.9px;height:4.2px;background:rgba(180,160,190,0.7);border-radius:2.1px;filter:blur(2.4000000000000004px)"></i>
<i style="left:6.4px;top:270.0px;width:50.9px;height:4.2px;background:rgba(190,170,190,0.6);border-radius:2.1px;filter:blur(2.4000000000000004px)"></i>
<i style="left:6.4px;top:288.6px;width:50.9px;height:5.6px;background:rgba(140,108,150,1);border-radius:2.8px;filter:blur(2.4000000000000004px)"></i>
<i style="left:6.4px;top:305.3px;width:50.9px;height:4.2px;background:rgba(200,180,200,0.6);border-radius:2.1px;filter:blur(2.4000000000000004px)"></i>
<i style="left:6.4px;top:315.0px;width:50.9px;height:4.2px;background:rgba(232,190,170,0.6);border-radius:2.1px;filter:blur(2.4000000000000004px)"></i>
<i style="left:6.4px;top:324.6px;width:50.9px;height:4.2px;background:rgba(200,180,190,0.6);border-radius:2.1px;filter:blur(2.4000000000000004px)"></i>
</div>
<div class="t num" style="left:1653.5px;top:387.0px">9</div>
<div class="ln" style="left:1695.00px;top:25.40px;width:63.60px;height:351.50px;background:linear-gradient(to bottom, rgb(228,190,203) 0px, rgb(222,183,198) 13px, rgb(208,168,187) 17px, rgb(203,163,183) 26px, rgb(208,170,188) 40px, rgb(222,188,201) 55px, rgb(231,200,209) 75px, rgb(235,206,213) 160px, rgb(237,209,215) 352px)">
<i style="left:0.0px;top:16.5px;width:63.6px;height:14.0px;background:rgba(200,155,175,0.6);border-radius:7.0px;filter:blur(6.4px)"></i>
<i style="left:9.5px;top:35.8px;width:44.5px;height:14.0px;background:rgba(185,128,155,0.85);border-radius:7.0px;filter:blur(5.6000000000000005px)"></i>
<i style="left:6.4px;top:237.6px;width:50.9px;height:4.9px;background:rgba(160,138,180,1);border-radius:2.4px;filter:blur(2.4000000000000004px)"></i>
<i style="left:6.4px;top:270.0px;width:50.9px;height:4.2px;background:rgba(190,170,195,0.6);border-radius:2.1px;filter:blur(2.4000000000000004px)"></i>
<i style="left:6.4px;top:288.6px;width:50.9px;height:5.6px;background:rgba(140,108,150,1);border-radius:2.8px;filter:blur(2.4000000000000004px)"></i>
<i style="left:6.4px;top:315.0px;width:50.9px;height:4.2px;background:rgba(210,185,195,0.6);border-radius:2.1px;filter:blur(2.4000000000000004px)"></i>
<i style="left:6.4px;top:324.6px;width:50.9px;height:4.2px;background:rgba(200,180,195,0.6);border-radius:2.1px;filter:blur(2.4000000000000004px)"></i>
</div>
<div class="t num" style="left:1711.7px;top:387.0px"><span class="o">1</span>0</div>
<div class="ln" style="left:1762.00px;top:25.40px;width:63.60px;height:351.50px;background:linear-gradient(to bottom, rgb(228,190,203) 0px, rgb(222,183,198) 13px, rgb(208,168,187) 17px, rgb(203,163,183) 26px, rgb(208,170,188) 40px, rgb(222,188,201) 55px, rgb(231,200,209) 75px, rgb(235,206,213) 160px, rgb(237,209,215) 352px)">
<i style="left:6.4px;top:16.1px;width:50.9px;height:8.4px;background:rgba(180,140,165,0.7);border-radius:4.2px;filter:blur(4.0px)"></i>
<i style="left:3.2px;top:26.3px;width:57.2px;height:16.8px;background:rgba(178,133,160,0.8);border-radius:8.4px;filter:blur(6.4px)"></i>
<i style="left:6.4px;top:160.3px;width:50.9px;height:5.6px;background:rgba(190,160,190,0.7);border-radius:2.8px;filter:blur(2.4000000000000004px)"></i>
<i style="left:6.4px;top:202.7px;width:50.9px;height:4.2px;background:rgba(232,212,190,0.5);border-radius:2.1px;filter:blur(2.4000000000000004px)"></i>
<i style="left:6.4px;top:228.0px;width:50.9px;height:4.9px;background:rgba(170,145,180,1);border-radius:2.4px;filter:blur(2.4000000000000004px)"></i>
<i style="left:6.4px;top:237.6px;width:50.9px;height:4.9px;background:rgba(170,145,180,1);border-radius:2.4px;filter:blur(2.4000000000000004px)"></i>
<i style="left:6.4px;top:270.0px;width:50.9px;height:4.2px;background:rgba(190,170,195,0.6);border-radius:2.1px;filter:blur(2.4000000000000004px)"></i>
<i style="left:6.4px;top:288.6px;width:50.9px;height:5.6px;background:rgba(140,113,155,1);border-radius:2.8px;filter:blur(2.4000000000000004px)"></i>
<i style="left:6.4px;top:310.1px;width:50.9px;height:5.6px;background:rgba(232,180,150,0.8);border-radius:2.8px;filter:blur(2.4000000000000004px)"></i>
<i style="left:6.4px;top:325.2px;width:50.9px;height:5.6px;background:rgba(210,150,100,1);border-radius:2.8px;filter:blur(2.4000000000000004px)"></i>
</div>
<div class="t num" style="left:1777.2px;top:387.0px"><span class="o">1</span><span class="o">1</span></div>
<div class="ln" style="left:1829.00px;top:25.40px;width:63.60px;height:351.50px;background:linear-gradient(to bottom, rgb(228,190,203) 0px, rgb(222,183,198) 13px, rgb(208,168,187) 17px, rgb(203,163,183) 26px, rgb(208,170,188) 40px, rgb(222,188,201) 55px, rgb(231,200,209) 75px, rgb(235,206,213) 160px, rgb(237,209,215) 352px)">
<i style="left:0.0px;top:15.9px;width:63.6px;height:28.0px;background:rgba(188,143,168,0.75);border-radius:14.0px;filter:blur(8.0px)"></i>
<i style="left:12.7px;top:72.3px;width:38.2px;height:8.4px;background:rgba(205,190,190,0.6);border-radius:4.2px;filter:blur(3.2px)"></i>
<i style="left:6.4px;top:109.6px;width:50.9px;height:4.2px;background:rgba(220,200,205,0.5);border-radius:2.1px;filter:blur(2.4000000000000004px)"></i>
<i style="left:6.4px;top:160.3px;width:50.9px;height:5.6px;background:rgba(190,160,190,0.7);border-radius:2.8px;filter:blur(2.4000000000000004px)"></i>
<i style="left:6.4px;top:228.3px;width:50.9px;height:4.2px;background:rgba(170,145,180,0.9);border-radius:2.1px;filter:blur(2.4000000000000004px)"></i>
<i style="left:6.4px;top:237.6px;width:50.9px;height:4.9px;background:rgba(160,135,175,1);border-radius:2.4px;filter:blur(2.4000000000000004px)"></i>
<i style="left:6.4px;top:270.0px;width:50.9px;height:4.2px;background:rgba(190,170,195,0.6);border-radius:2.1px;filter:blur(2.4000000000000004px)"></i>
<i style="left:6.4px;top:288.6px;width:50.9px;height:5.6px;background:rgba(140,113,155,1);border-radius:2.8px;filter:blur(2.4000000000000004px)"></i>
<i style="left:6.4px;top:316.8px;width:50.9px;height:7.0px;background:rgba(232,190,170,0.6);border-radius:3.5px;filter:blur(2.4000000000000004px)"></i>
</div>
<div class="t num" style="left:1842.3px;top:387.0px"><span class="o">1</span>2</div>
<div class="ln" style="left:1896.00px;top:25.40px;width:63.60px;height:351.50px;background:linear-gradient(to bottom, rgb(228,190,203) 0px, rgb(222,183,198) 13px, rgb(208,168,187) 17px, rgb(203,163,183) 26px, rgb(208,170,188) 40px, rgb(222,188,201) 55px, rgb(231,200,209) 75px, rgb(235,206,213) 160px, rgb(237,209,215) 352px)">
<i style="left:6.4px;top:16.1px;width:50.9px;height:8.4px;background:rgba(190,150,170,0.7);border-radius:4.2px;filter:blur(4.0px)"></i>
<i style="left:9.5px;top:40.4px;width:44.5px;height:11.2px;background:rgba(165,135,165,0.85);border-radius:5.6px;filter:blur(4.800000000000001px)"></i>
<i style="left:6.4px;top:52.2px;width:47.7px;height:12.6px;background:rgba(148,108,148,0.95);border-radius:6.3px;filter:blur(4.800000000000001px)"></i>
<i style="left:6.4px;top:75.5px;width:50.9px;height:8.4px;background:rgba(222,190,205,0.6);border-radius:4.2px;filter:blur(2.4000000000000004px)"></i>
<i style="left:6.4px;top:116.1px;width:50.9px;height:4.2px;background:rgba(200,170,190,0.6);border-radius:2.1px;filter:blur(2.4000000000000004px)"></i>
<i style="left:6.4px;top:128.9px;width:50.9px;height:4.2px;background:rgba(200,170,190,0.6);border-radius:2.1px;filter:blur(2.4000000000000004px)"></i>
<i style="left:6.4px;top:159.6px;width:50.9px;height:7.0px;background:rgba(170,138,175,1);border-radius:3.5px;filter:blur(2.4000000000000004px)"></i>
<i style="left:6.4px;top:189.8px;width:50.9px;height:4.2px;background:rgba(190,170,195,0.7);border-radius:2.1px;filter:blur(2.4000000000000004px)"></i>
<i style="left:6.4px;top:202.0px;width:50.9px;height:5.6px;background:rgba(222,195,160,0.8);border-radius:2.8px;filter:blur(2.4000000000000004px)"></i>
<i style="left:6.4px;top:227.6px;width:50.9px;height:5.6px;background:rgba(160,128,170,1);border-radius:2.8px;filter:blur(2.4000000000000004px)"></i>
<i style="left:6.4px;top:236.6px;width:50.9px;height:7.0px;background:rgba(120,108,140,1);border-radius:3.5px;filter:blur(2.4000000000000004px)"></i>
<i style="left:6.4px;top:269.3px;width:50.9px;height:5.6px;background:rgba(160,133,175,1);border-radius:2.8px;filter:blur(2.4000000000000004px)"></i>
<i style="left:6.4px;top:287.9px;width:50.9px;height:7.0px;background:rgba(100,88,110,1);border-radius:3.5px;filter:blur(2.4000000000000004px)"></i>
<i style="left:6.4px;top:304.6px;width:50.9px;height:5.6px;background:rgba(180,160,190,0.7);border-radius:2.8px;filter:blur(2.4000000000000004px)"></i>
<i style="left:6.4px;top:317.5px;width:50.9px;height:5.6px;background:rgba(212,170,130,1);border-radius:2.8px;filter:blur(2.4000000000000004px)"></i>
<i style="left:6.4px;top:324.6px;width:50.9px;height:4.2px;background:rgba(160,140,170,0.8);border-radius:2.1px;filter:blur(2.4000000000000004px)"></i>
</div>
<div class="t num" style="left:1908.5px;top:387.0px"><span class="o">1</span>3</div>
<div class="ln" style="left:1963.00px;top:25.40px;width:63.60px;height:351.50px;background:linear-gradient(to bottom, rgb(228,190,203) 0px, rgb(222,183,198) 13px, rgb(208,168,187) 17px, rgb(203,163,183) 26px, rgb(208,170,188) 40px, rgb(222,188,201) 55px, rgb(231,200,209) 75px, rgb(235,206,213) 160px, rgb(237,209,215) 352px)">
<i style="left:0.0px;top:12.9px;width:66.8px;height:30.8px;background:rgba(150,118,150,0.9);border-radius:8.0px;filter:blur(8.0px)"></i>
<i style="left:6.4px;top:158.9px;width:50.9px;height:8.4px;background:rgba(140,118,160,1);border-radius:4.2px;filter:blur(2.8800000000000003px)"></i>
<i style="left:6.4px;top:202.7px;width:50.9px;height:4.2px;background:rgba(232,200,160,0.6);border-radius:2.1px;filter:blur(2.4000000000000004px)"></i>
<i style="left:6.4px;top:227.6px;width:50.9px;height:5.6px;background:rgba(150,123,165,1);border-radius:2.8px;filter:blur(2.4000000000000004px)"></i>
<i style="left:6.4px;top:237.6px;width:50.9px;height:4.9px;background:rgba(160,140,175,1);border-radius:2.4px;filter:blur(2.4000000000000004px)"></i>
<i style="left:6.4px;top:263.6px;width:50.9px;height:4.2px;background:rgba(200,180,195,0.6);border-radius:2.1px;filter:blur(2.4000000000000004px)"></i>
<i style="left:6.4px;top:270.0px;width:50.9px;height:4.2px;background:rgba(200,180,195,0.6);border-radius:2.1px;filter:blur(2.4000000000000004px)"></i>
<i style="left:6.4px;top:289.3px;width:50.9px;height:4.2px;background:rgba(190,170,190,0.6);border-radius:2.1px;filter:blur(2.4000000000000004px)"></i>
<i style="left:6.4px;top:305.3px;width:50.9px;height:4.2px;background:rgba(200,180,200,0.6);border-radius:2.1px;filter:blur(2.4000000000000004px)"></i>
<i style="left:5.1px;top:322.9px;width:53.4px;height:14.0px;background:rgba(237,190,120,1);border-radius:7.0px;filter:blur(4.0px)"></i>
</div>
<div class="t num" style="left:1982.0px;top:387.0px"><span class="o">1</span>4</div>
<div class="t let" style="left:1043.9px;top:11.7px;transform:scaleX(0.95);transform-origin:0 0">B</div>
<div class="k" style="left:1077.25px;top:40.90px;width:1.5px;height:320.80px"></div>
<div class="k" style="left:1074.40px;top:40.15px;width:7.2px;height:1.5px"></div>
<div class="k" style="left:1074.40px;top:360.95px;width:7.2px;height:1.5px"></div>
<div class="k" style="left:1075.00px;top:328.92px;width:6px;height:1.4px"></div>
<div class="t tk" style="left:1050.7px;width:22.5px;text-align:right;top:324.7px;transform-origin:100% 50%">0.1</div>
<div class="k" style="left:1075.00px;top:296.84px;width:6px;height:1.4px"></div>
<div class="t tk" style="left:1050.7px;width:22.5px;text-align:right;top:292.6px;transform-origin:100% 50%">0.2</div>
<div class="k" style="left:1075.00px;top:264.76px;width:6px;height:1.4px"></div>
<div class="t tk" style="left:1050.7px;width:22.5px;text-align:right;top:260.6px;transform-origin:100% 50%">0.3</div>
<div class="k" style="left:1075.00px;top:232.68px;width:6px;height:1.4px"></div>
<div class="t tk" style="left:1050.7px;width:22.5px;text-align:right;top:228.5px;transform-origin:100% 50%">0.4</div>
<div class="k" style="left:1075.00px;top:200.60px;width:6px;height:1.4px"></div>
<div class="t tk" style="left:1050.7px;width:22.5px;text-align:right;top:196.4px;transform-origin:100% 50%">0.5</div>
<div class="k" style="left:1075.00px;top:168.52px;width:6px;height:1.4px"></div>
<div class="t tk" style="left:1050.7px;width:22.5px;text-align:right;top:164.3px;transform-origin:100% 50%">0.6</div>
<div class="k" style="left:1075.00px;top:136.44px;width:6px;height:1.4px"></div>
<div class="t tk" style="left:1050.7px;width:22.5px;text-align:right;top:132.2px;transform-origin:100% 50%">0.7</div>
<div class="k" style="left:1075.00px;top:104.36px;width:6px;height:1.4px"></div>
<div class="t tk" style="left:1050.7px;width:22.5px;text-align:right;top:100.2px;transform-origin:100% 50%">0.8</div>
<div class="k" style="left:1075.00px;top:72.28px;width:6px;height:1.4px"></div>
<div class="t tk" style="left:1050.7px;width:22.5px;text-align:right;top:68.1px;transform-origin:100% 50%">0.9</div>
<div class="t rf" style="left:1050.0px;width:24px;text-align:right;top:36.9px"><em>R</em><small>F</small></div>
<div class="k" style="left:2038.95px;top:40.90px;width:1.5px;height:320.80px"></div>
<div class="k" style="left:2036.10px;top:40.15px;width:7.2px;height:1.5px"></div>
<div class="k" style="left:2036.10px;top:360.95px;width:7.2px;height:1.5px"></div>
<div class="k" style="left:2036.70px;top:328.92px;width:6px;height:1.4px"></div>
<div class="t tk" style="left:2044.5px;top:324.7px;transform-origin:0 50%">0.1</div>
<div class="k" style="left:2036.70px;top:296.84px;width:6px;height:1.4px"></div>
<div class="t tk" style="left:2044.5px;top:292.6px;transform-origin:0 50%">0.2</div>
<div class="k" style="left:2036.70px;top:264.76px;width:6px;height:1.4px"></div>
<div class="t tk" style="left:2044.5px;top:260.6px;transform-origin:0 50%">0.3</div>
<div class="k" style="left:2036.70px;top:232.68px;width:6px;height:1.4px"></div>
<div class="t tk" style="left:2044.5px;top:228.5px;transform-origin:0 50%">0.4</div>
<div class="k" style="left:2036.70px;top:200.60px;width:6px;height:1.4px"></div>
<div class="t tk" style="left:2044.5px;top:196.4px;transform-origin:0 50%">0.5</div>
<div class="k" style="left:2036.70px;top:168.52px;width:6px;height:1.4px"></div>
<div class="t tk" style="left:2044.5px;top:164.3px;transform-origin:0 50%">0.6</div>
<div class="k" style="left:2036.70px;top:136.44px;width:6px;height:1.4px"></div>
<div class="t tk" style="left:2044.5px;top:132.2px;transform-origin:0 50%">0.7</div>
<div class="k" style="left:2036.70px;top:104.36px;width:6px;height:1.4px"></div>
<div class="t tk" style="left:2044.5px;top:100.2px;transform-origin:0 50%">0.8</div>
<div class="k" style="left:2036.70px;top:72.28px;width:6px;height:1.4px"></div>
<div class="t tk" style="left:2044.5px;top:68.1px;transform-origin:0 50%">0.9</div>
<div class="t rf" style="left:2045.7px;top:36.9px"><em>R</em><small>F</small></div>
<div class="ln" style="left:68.20px;top:423.10px;width:63.70px;height:352.60px;background:linear-gradient(to bottom,rgb(168, 126, 128) 0px,rgb(162, 120, 122) 8px,rgb(146, 109, 111) 12px,rgb(132, 100, 102) 16px,rgb(124, 95, 98) 22px,rgb(128, 98, 101) 27px,rgb(152, 118, 121) 33px,rgb(169, 136, 140) 42px,rgb(168, 136, 142) 62px,rgb(168, 136, 142) 220px,rgb(181, 149, 165) 265px,rgb(192, 160, 185) 300px,rgb(192, 160, 185) 352px)">
<i style="left:6.4px;top:38.6px;width:57.3px;height:18.2px;background:rgba(205,182,186,0.6);border-radius:9.1px;filter:blur(9.600000000000001px)"></i>
<i style="left:6.4px;top:157.7px;width:51.0px;height:5.2px;background:rgba(175,165,125,0.6);border-radius:2.6px;filter:blur(2.4000000000000004px)"></i>
<i style="left:6.4px;top:236.1px;width:51.0px;height:5.9px;background:rgba(188,168,118,0.8);border-radius:2.9px;filter:blur(2.4000000000000004px)"></i>
<i style="left:6.4px;top:270.9px;width:51.0px;height:3.9px;background:rgba(160,150,125,0.4);border-radius:2.0px;filter:blur(2.4000000000000004px)"></i>
<i style="left:6.4px;top:287.6px;width:51.0px;height:5.9px;background:rgba(155,148,146,1);border-radius:2.9px;filter:blur(2.4000000000000004px)"></i>
<i style="left:6.4px;top:313.9px;width:51.0px;height:7.8px;background:rgba(205,180,200,0.15);border-radius:3.9px;filter:blur(2.4000000000000004px)"></i>
<i style="left:6.4px;top:331.9px;width:51.0px;height:3.9px;background:rgba(200,140,110,0.5);border-radius:2.0px;filter:blur(2.4000000000000004px)"></i>
</div>
<div class="t num" style="left:90.3px;top:786.7px"><span class="o">1</span></div>
<div class="ln" style="left:135.20px;top:423.10px;width:63.70px;height:352.60px;background:linear-gradient(to bottom,rgb(168, 126, 128) 0px,rgb(162, 120, 122) 8px,rgb(146, 109, 111) 12px,rgb(132, 100, 102) 16px,rgb(124, 95, 98) 22px,rgb(128, 98, 101) 27px,rgb(152, 118, 121) 33px,rgb(169, 133, 137) 42px,rgb(168, 132, 137) 62px,rgb(168, 132, 137) 220px,rgb(182, 148, 165) 265px,rgb(194, 162, 188) 300px,rgb(194, 162, 188) 352px)">
<i style="left:0.0px;top:38.6px;width:63.7px;height:18.2px;background:rgba(205,182,186,0.8);border-radius:9.1px;filter:blur(9.600000000000001px)"></i>
<i style="left:6.4px;top:287.6px;width:51.0px;height:5.9px;background:rgba(155,150,140,1);border-radius:2.9px;filter:blur(2.4000000000000004px)"></i>
<i style="left:6.4px;top:310.7px;width:51.0px;height:7.8px;background:rgba(205,180,200,0.12);border-radius:3.9px;filter:blur(2.4000000000000004px)"></i>
</div>
<div class="t num" style="left:161.4px;top:786.7px">2</div>
<div class="ln" style="left:202.20px;top:423.10px;width:63.70px;height:352.60px;background:linear-gradient(to bottom,rgb(168, 126, 128) 0px,rgb(162, 120, 122) 8px,rgb(146, 109, 111) 12px,rgb(132, 100, 102) 16px,rgb(124, 95, 98) 22px,rgb(128, 98, 101) 27px,rgb(152, 118, 121) 33px,rgb(172, 131, 132) 42px,rgb(172, 128, 128) 62px,rgb(172, 128, 128) 220px,rgb(184, 145, 159) 265px,rgb(194, 160, 185) 300px,rgb(194, 160, 185) 352px)">
<i style="left:0.0px;top:43.5px;width:60.5px;height:18.2px;background:rgba(210,188,190,0.9);border-radius:9.1px;filter:blur(9.600000000000001px)"></i>
<i style="left:6.4px;top:225.8px;width:51.0px;height:3.9px;background:rgba(160,150,125,0.4);border-radius:2.0px;filter:blur(2.4000000000000004px)"></i>
<i style="left:6.4px;top:236.4px;width:51.0px;height:5.2px;background:rgba(185,160,120,0.4);border-radius:2.6px;filter:blur(2.4000000000000004px)"></i>
<i style="left:6.4px;top:270.9px;width:51.0px;height:3.9px;background:rgba(160,150,125,0.4);border-radius:2.0px;filter:blur(2.4000000000000004px)"></i>
<i style="left:6.4px;top:287.6px;width:51.0px;height:5.9px;background:rgba(155,148,146,1);border-radius:2.9px;filter:blur(2.4000000000000004px)"></i>
<i style="left:6.4px;top:309.4px;width:51.0px;height:10.4px;background:rgba(210,185,205,0.18);border-radius:5.2px;filter:blur(2.4000000000000004px)"></i>
<i style="left:6.4px;top:331.9px;width:51.0px;height:3.9px;background:rgba(200,140,110,0.4);border-radius:2.0px;filter:blur(2.4000000000000004px)"></i>
</div>
<div class="t num" style="left:227.3px;top:786.7px">3</div>
<div class="ln" style="left:269.20px;top:423.10px;width:63.70px;height:352.60px;background:linear-gradient(to bottom,rgb(168, 126, 128) 0px,rgb(162, 120, 122) 8px,rgb(146, 109, 111) 12px,rgb(132, 100, 102) 16px,rgb(124, 95, 98) 22px,rgb(128, 98, 101) 27px,rgb(152, 118, 121) 33px,rgb(175, 128, 126) 42px,rgb(178, 124, 118) 62px,rgb(178, 124, 118) 220px,rgb(185, 141, 152) 265px,rgb(192, 156, 180) 300px,rgb(192, 156, 180) 352px)">
<i style="left:-6.4px;top:39.9px;width:31.9px;height:15.6px;background:rgba(205,182,186,0.4);border-radius:7.8px;filter:blur(9.600000000000001px)"></i>
<i style="left:38.2px;top:222.0px;width:19.1px;height:5.2px;background:rgba(190,130,120,0.5);border-radius:2.6px;filter:blur(2.4000000000000004px)"></i>
<i style="left:6.4px;top:226.5px;width:51.0px;height:5.9px;background:rgba(160,150,130,1);border-radius:2.9px;filter:blur(2.4000000000000004px)"></i>
<i style="left:6.4px;top:236.8px;width:51.0px;height:4.5px;background:rgba(185,160,120,0.5);border-radius:2.3px;filter:blur(2.4000000000000004px)"></i>
<i style="left:6.4px;top:270.9px;width:51.0px;height:3.9px;background:rgba(160,150,125,0.5);border-radius:2.0px;filter:blur(2.4000000000000004px)"></i>
<i style="left:6.4px;top:287.6px;width:51.0px;height:5.9px;background:rgba(155,148,146,1);border-radius:2.9px;filter:blur(2.4000000000000004px)"></i>
<i style="left:5.1px;top:307.1px;width:51.0px;height:31.0px;background:rgba(178,124,134,0.85);border-radius:4.0px;filter:blur(1.2px)"></i>
<i style="left:6.4px;top:330.0px;width:48.4px;height:6.5px;background:rgba(195,125,110,0.8);border-radius:3.2px;filter:blur(2.4000000000000004px)"></i>
</div>
<div class="t num" style="left:292.9px;top:786.7px">4</div>
<div class="ln" style="left:336.20px;top:423.10px;width:63.70px;height:352.60px;background:linear-gradient(to bottom,rgb(168, 126, 128) 0px,rgb(162, 120, 122) 8px,rgb(146, 109, 111) 12px,rgb(132, 100, 102) 16px,rgb(124, 95, 98) 22px,rgb(128, 98, 101) 27px,rgb(152, 118, 121) 33px,rgb(174, 128, 129) 42px,rgb(176, 124, 124) 62px,rgb(176, 124, 124) 220px,rgb(182, 139, 153) 265px,rgb(188, 152, 178) 300px,rgb(188, 152, 178) 352px)">
<i style="left:0.0px;top:250.8px;width:63.7px;height:18.2px;background:rgba(170,125,140,0.3);border-radius:9.1px;filter:blur(9.600000000000001px)"></i>
</div>
<div class="t num" style="left:359.7px;top:786.7px">5</div>
<div class="ln" style="left:403.20px;top:423.10px;width:63.70px;height:352.60px;background:linear-gradient(to bottom,rgb(168, 126, 128) 0px,rgb(162, 120, 122) 8px,rgb(146, 109, 111) 12px,rgb(132, 100, 102) 16px,rgb(124, 95, 98) 22px,rgb(128, 98, 101) 27px,rgb(152, 118, 121) 33px,rgb(180, 130, 124) 42px,rgb(186, 126, 116) 62px,rgb(186, 126, 116) 220px,rgb(188, 140, 149) 265px,rgb(190, 152, 176) 300px,rgb(190, 152, 176) 352px)">
<i style="left:6.4px;top:157.7px;width:51.0px;height:5.2px;background:rgba(195,150,120,0.4);border-radius:2.6px;filter:blur(2.4000000000000004px)"></i>
<i style="left:6.4px;top:235.8px;width:51.0px;height:6.5px;background:rgba(192,150,108,1);border-radius:3.2px;filter:blur(2.4000000000000004px)"></i>
<i style="left:6.4px;top:270.9px;width:51.0px;height:3.9px;background:rgba(180,150,120,0.5);border-radius:2.0px;filter:blur(2.4000000000000004px)"></i>
<i style="left:6.4px;top:287.6px;width:51.0px;height:5.9px;background:rgba(155,148,146,1);border-radius:2.9px;filter:blur(2.4000000000000004px)"></i>
<i style="left:6.4px;top:331.9px;width:51.0px;height:3.9px;background:rgba(200,140,110,0.5);border-radius:2.0px;filter:blur(2.4000000000000004px)"></i>
</div>
<div class="t num" style="left:433.1px;top:786.7px">6</div>
<div class="ln" style="left:470.20px;top:423.10px;width:63.70px;height:352.60px;background:linear-gradient(to bottom,rgb(168, 126, 128) 0px,rgb(162, 120, 122) 8px,rgb(146, 109, 111) 12px,rgb(132, 100, 102) 16px,rgb(124, 95, 98) 22px,rgb(128, 98, 101) 27px,rgb(152, 118, 121) 33px,rgb(182, 130, 122) 42px,rgb(190, 126, 112) 62px,rgb(190, 126, 112) 220px,rgb(191, 141, 148) 265px,rgb(192, 154, 178) 300px,rgb(192, 154, 178) 352px)">
<i style="left:0.0px;top:157.4px;width:63.7px;height:70.0px;background:rgba(215,165,150,0.35);border-radius:35.0px;filter:blur(12px)"></i>
<i style="left:5.1px;top:80.0px;width:53.5px;height:48.0px;background:rgba(215,125,90,0.7);border-radius:24.0px;filter:blur(12px)"></i>
<i style="left:6.4px;top:157.7px;width:51.0px;height:5.2px;background:rgba(190,150,120,0.5);border-radius:2.6px;filter:blur(2.4000000000000004px)"></i>
<i style="left:7.6px;top:207.2px;width:44.6px;height:6.5px;background:rgba(165,118,108,1);border-radius:3.2px;filter:blur(1.92px)"></i>
<i style="left:11.5px;top:209.6px;width:36.9px;height:1.6px;background:rgba(215,170,150,0.8);border-radius:0.8px;filter:blur(0.96px)"></i>
<i style="left:6.4px;top:235.8px;width:51.0px;height:6.5px;background:rgba(196,145,105,0.9);border-radius:3.2px;filter:blur(2.4000000000000004px)"></i>
<i style="left:6.4px;top:270.9px;width:51.0px;height:3.9px;background:rgba(160,150,125,0.5);border-radius:2.0px;filter:blur(2.4000000000000004px)"></i>
<i style="left:6.4px;top:287.6px;width:51.0px;height:5.9px;background:rgba(155,148,146,1);border-radius:2.9px;filter:blur(2.4000000000000004px)"></i>
<i style="left:6.4px;top:308.6px;width:57.3px;height:31.2px;background:rgba(210,185,200,0.25);border-radius:15.6px;filter:blur(9.600000000000001px)"></i>
</div>
<div class="t num" style="left:496.7px;top:786.7px">7</div>
<div class="ln" style="left:537.20px;top:423.10px;width:63.70px;height:352.60px;background:linear-gradient(to bottom,rgb(168, 126, 128) 0px,rgb(162, 120, 122) 8px,rgb(146, 109, 111) 12px,rgb(132, 100, 102) 16px,rgb(124, 95, 98) 22px,rgb(128, 98, 101) 27px,rgb(152, 118, 121) 33px,rgb(180, 130, 124) 42px,rgb(186, 126, 116) 62px,rgb(186, 126, 116) 220px,rgb(189, 141, 150) 265px,rgb(192, 154, 178) 300px,rgb(192, 154, 178) 352px)">
<i style="left:-3.2px;top:42.9px;width:70.1px;height:13.0px;background:rgba(200,180,182,0.7);border-radius:6.5px;filter:blur(8.0px)"></i>
<i style="left:6.4px;top:225.5px;width:51.0px;height:4.5px;background:rgba(160,150,125,0.6);border-radius:2.3px;filter:blur(2.4000000000000004px)"></i>
<i style="left:6.4px;top:236.4px;width:51.0px;height:5.2px;background:rgba(190,155,110,0.8);border-radius:2.6px;filter:blur(2.4000000000000004px)"></i>
<i style="left:6.4px;top:287.6px;width:51.0px;height:5.9px;background:rgba(155,148,146,1);border-radius:2.9px;filter:blur(2.4000000000000004px)"></i>
</div>
<div class="t num" style="left:563.0px;top:786.7px">8</div>
<div class="ln" style="left:604.20px;top:423.10px;width:63.70px;height:352.60px;background:linear-gradient(to bottom,rgb(168, 126, 128) 0px,rgb(162, 120, 122) 8px,rgb(146, 109, 111) 12px,rgb(132, 100, 102) 16px,rgb(124, 95, 98) 22px,rgb(128, 98, 101) 27px,rgb(152, 118, 121) 33px,rgb(180, 130, 126) 42px,rgb(186, 126, 118) 62px,rgb(186, 126, 118) 220px,rgb(188, 140, 149) 265px,rgb(190, 152, 176) 300px,rgb(190, 152, 176) 352px)">
<i style="left:3.2px;top:21.3px;width:51.0px;height:20.8px;background:rgba(200,160,95,0.3);border-radius:10.4px;filter:blur(8.0px)"></i>
<i style="left:6.4px;top:287.6px;width:51.0px;height:5.9px;background:rgba(155,148,146,0.8);border-radius:2.9px;filter:blur(2.4000000000000004px)"></i>
</div>
<div class="t num" style="left:629.0px;top:786.7px">9</div>
<div class="ln" style="left:671.20px;top:423.10px;width:63.70px;height:352.60px;background:linear-gradient(to bottom,rgb(168, 126, 128) 0px,rgb(162, 120, 122) 8px,rgb(146, 109, 111) 12px,rgb(132, 100, 102) 16px,rgb(124, 95, 98) 22px,rgb(128, 98, 101) 27px,rgb(152, 118, 121) 33px,rgb(180, 130, 126) 42px,rgb(186, 126, 118) 62px,rgb(186, 126, 118) 220px,rgb(188, 140, 149) 265px,rgb(190, 152, 176) 300px,rgb(190, 152, 176) 352px)">
<i style="left:9.6px;top:196.2px;width:42.7px;height:18.2px;background:rgba(225,200,195,0.3);border-radius:9.1px;filter:blur(6.4px)"></i>
<i style="left:6.4px;top:287.6px;width:51.0px;height:5.9px;background:rgba(155,148,146,0.8);border-radius:2.9px;filter:blur(2.4000000000000004px)"></i>
<i style="left:23.2px;top:210.1px;width:3.0px;height:3.0px;background:rgba(232,215,212,0.8);border-radius:1.5px;filter:blur(0.5px)"></i>
<i style="left:24.0px;top:210.8px;width:1.5px;height:1.5px;background:rgba(120,65,60,0.85);border-radius:0.8px;filter:blur(0.35px)"></i>
<i style="left:34.1px;top:211.3px;width:3.0px;height:3.0px;background:rgba(232,215,212,0.8);border-radius:1.5px;filter:blur(0.5px)"></i>
<i style="left:34.8px;top:212.1px;width:1.5px;height:1.5px;background:rgba(120,65,60,0.85);border-radius:0.8px;filter:blur(0.35px)"></i>
<i style="left:30.3px;top:206.7px;width:3.0px;height:3.0px;background:rgba(232,215,212,0.8);border-radius:1.5px;filter:blur(0.5px)"></i>
<i style="left:31.0px;top:207.5px;width:1.5px;height:1.5px;background:rgba(120,65,60,0.85);border-radius:0.8px;filter:blur(0.35px)"></i>
<i style="left:14.4px;top:204.5px;width:3.0px;height:3.0px;background:rgba(232,215,212,0.8);border-radius:1.5px;filter:blur(0.5px)"></i>
<i style="left:15.2px;top:205.2px;width:1.5px;height:1.5px;background:rgba(120,65,60,0.85);border-radius:0.8px;filter:blur(0.35px)"></i>
<i style="left:13.8px;top:205.6px;width:3.0px;height:3.0px;background:rgba(232,215,212,0.8);border-radius:1.5px;filter:blur(0.5px)"></i>
<i style="left:14.5px;top:206.4px;width:1.5px;height:1.5px;background:rgba(120,65,60,0.85);border-radius:0.8px;filter:blur(0.35px)"></i>
<i style="left:14.8px;top:211.0px;width:3.0px;height:3.0px;background:rgba(232,215,212,0.8);border-radius:1.5px;filter:blur(0.5px)"></i>
<i style="left:15.6px;top:211.8px;width:1.5px;height:1.5px;background:rgba(120,65,60,0.85);border-radius:0.8px;filter:blur(0.35px)"></i>
<i style="left:26.6px;top:199.4px;width:3.0px;height:3.0px;background:rgba(232,215,212,0.8);border-radius:1.5px;filter:blur(0.5px)"></i>
<i style="left:27.3px;top:200.2px;width:1.5px;height:1.5px;background:rgba(120,65,60,0.85);border-radius:0.8px;filter:blur(0.35px)"></i>
<i style="left:16.6px;top:208.9px;width:3.0px;height:3.0px;background:rgba(232,215,212,0.8);border-radius:1.5px;filter:blur(0.5px)"></i>
<i style="left:17.4px;top:209.7px;width:1.5px;height:1.5px;background:rgba(120,65,60,0.85);border-radius:0.8px;filter:blur(0.35px)"></i>
<i style="left:33.3px;top:197.5px;width:3.0px;height:3.0px;background:rgba(232,215,212,0.8);border-radius:1.5px;filter:blur(0.5px)"></i>
<i style="left:34.0px;top:198.3px;width:1.5px;height:1.5px;background:rgba(120,65,60,0.85);border-radius:0.8px;filter:blur(0.35px)"></i>
<i style="left:31.6px;top:206.2px;width:3.0px;height:3.0px;background:rgba(232,215,212,0.8);border-radius:1.5px;filter:blur(0.5px)"></i>
<i style="left:32.4px;top:207.0px;width:1.5px;height:1.5px;background:rgba(120,65,60,0.85);border-radius:0.8px;filter:blur(0.35px)"></i>
<i style="left:44.9px;top:211.7px;width:3.0px;height:3.0px;background:rgba(232,215,212,0.8);border-radius:1.5px;filter:blur(0.5px)"></i>
<i style="left:45.6px;top:212.5px;width:1.5px;height:1.5px;background:rgba(120,65,60,0.85);border-radius:0.8px;filter:blur(0.35px)"></i>
<i style="left:40.9px;top:207.9px;width:3.0px;height:3.0px;background:rgba(232,215,212,0.8);border-radius:1.5px;filter:blur(0.5px)"></i>
<i style="left:41.7px;top:208.7px;width:1.5px;height:1.5px;background:rgba(120,65,60,0.85);border-radius:0.8px;filter:blur(0.35px)"></i>
<i style="left:17.3px;top:210.6px;width:3.0px;height:3.0px;background:rgba(232,215,212,0.8);border-radius:1.5px;filter:blur(0.5px)"></i>
<i style="left:18.0px;top:211.4px;width:1.5px;height:1.5px;background:rgba(120,65,60,0.85);border-radius:0.8px;filter:blur(0.35px)"></i>
<i style="left:22.7px;top:199.6px;width:3.0px;height:3.0px;background:rgba(232,215,212,0.8);border-radius:1.5px;filter:blur(0.5px)"></i>
<i style="left:23.5px;top:200.4px;width:1.5px;height:1.5px;background:rgba(120,65,60,0.85);border-radius:0.8px;filter:blur(0.35px)"></i>
<i style="left:18.5px;top:203.3px;width:3.0px;height:3.0px;background:rgba(232,215,212,0.8);border-radius:1.5px;filter:blur(0.5px)"></i>
<i style="left:19.3px;top:204.1px;width:1.5px;height:1.5px;background:rgba(120,65,60,0.85);border-radius:0.8px;filter:blur(0.35px)"></i>
<i style="left:33.7px;top:206.6px;width:3.0px;height:3.0px;background:rgba(232,215,212,0.8);border-radius:1.5px;filter:blur(0.5px)"></i>
<i style="left:34.4px;top:207.3px;width:1.5px;height:1.5px;background:rgba(120,65,60,0.85);border-radius:0.8px;filter:blur(0.35px)"></i>
<i style="left:30.7px;top:211.5px;width:3.0px;height:3.0px;background:rgba(232,215,212,0.8);border-radius:1.5px;filter:blur(0.5px)"></i>
<i style="left:31.4px;top:212.2px;width:1.5px;height:1.5px;background:rgba(120,65,60,0.85);border-radius:0.8px;filter:blur(0.35px)"></i>
<i style="left:14.5px;top:209.2px;width:3.0px;height:3.0px;background:rgba(232,215,212,0.8);border-radius:1.5px;filter:blur(0.5px)"></i>
<i style="left:15.2px;top:210.0px;width:1.5px;height:1.5px;background:rgba(120,65,60,0.85);border-radius:0.8px;filter:blur(0.35px)"></i>
<i style="left:35.1px;top:205.7px;width:3.0px;height:3.0px;background:rgba(232,215,212,0.8);border-radius:1.5px;filter:blur(0.5px)"></i>
<i style="left:35.8px;top:206.5px;width:1.5px;height:1.5px;background:rgba(120,65,60,0.85);border-radius:0.8px;filter:blur(0.35px)"></i>
<i style="left:22.9px;top:203.2px;width:3.0px;height:3.0px;background:rgba(232,215,212,0.8);border-radius:1.5px;filter:blur(0.5px)"></i>
<i style="left:23.7px;top:204.0px;width:1.5px;height:1.5px;background:rgba(120,65,60,0.85);border-radius:0.8px;filter:blur(0.35px)"></i>
<i style="left:27.5px;top:207.7px;width:3.0px;height:3.0px;background:rgba(232,215,212,0.8);border-radius:1.5px;filter:blur(0.5px)"></i>
<i style="left:28.3px;top:208.5px;width:1.5px;height:1.5px;background:rgba(120,65,60,0.85);border-radius:0.8px;filter:blur(0.35px)"></i>
<i style="left:38.8px;top:201.5px;width:3.0px;height:3.0px;background:rgba(232,215,212,0.8);border-radius:1.5px;filter:blur(0.5px)"></i>
<i style="left:39.6px;top:202.2px;width:1.5px;height:1.5px;background:rgba(120,65,60,0.85);border-radius:0.8px;filter:blur(0.35px)"></i>
<i style="left:20.6px;top:203.4px;width:3.0px;height:3.0px;background:rgba(232,215,212,0.8);border-radius:1.5px;filter:blur(0.5px)"></i>
<i style="left:21.3px;top:204.2px;width:1.5px;height:1.5px;background:rgba(120,65,60,0.85);border-radius:0.8px;filter:blur(0.35px)"></i>
<i style="left:29.9px;top:198.7px;width:3.0px;height:3.0px;background:rgba(232,215,212,0.8);border-radius:1.5px;filter:blur(0.5px)"></i>
<i style="left:30.7px;top:199.4px;width:1.5px;height:1.5px;background:rgba(120,65,60,0.85);border-radius:0.8px;filter:blur(0.35px)"></i>
<i style="left:36.7px;top:207.9px;width:3.0px;height:3.0px;background:rgba(232,215,212,0.8);border-radius:1.5px;filter:blur(0.5px)"></i>
<i style="left:37.4px;top:208.7px;width:1.5px;height:1.5px;background:rgba(120,65,60,0.85);border-radius:0.8px;filter:blur(0.35px)"></i>
<i style="left:45.0px;top:210.6px;width:3.0px;height:3.0px;background:rgba(232,215,212,0.8);border-radius:1.5px;filter:blur(0.5px)"></i>
<i style="left:45.7px;top:211.4px;width:1.5px;height:1.5px;background:rgba(120,65,60,0.85);border-radius:0.8px;filter:blur(0.35px)"></i>
</div>
<div class="t num" style="left:686.5px;top:786.7px"><span class="o">1</span>0</div>
<div class="ln" style="left:738.20px;top:423.10px;width:63.70px;height:352.60px;background:linear-gradient(to bottom,rgb(168, 126, 128) 0px,rgb(162, 120, 122) 8px,rgb(146, 109, 111) 12px,rgb(132, 100, 102) 16px,rgb(124, 95, 98) 22px,rgb(128, 98, 101) 27px,rgb(152, 118, 121) 33px,rgb(179, 130, 126) 42px,rgb(185, 126, 118) 62px,rgb(185, 126, 118) 220px,rgb(188, 141, 151) 265px,rgb(192, 154, 178) 300px,rgb(192, 154, 178) 352px)">
<i style="left:0.0px;top:44.2px;width:63.7px;height:10.4px;background:rgba(200,180,182,0.5);border-radius:5.2px;filter:blur(6.4px)"></i>
<i style="left:6.4px;top:287.6px;width:51.0px;height:5.9px;background:rgba(155,148,146,0.8);border-radius:2.9px;filter:blur(2.4000000000000004px)"></i>
</div>
<div class="t num" style="left:752.7px;top:786.7px"><span class="o">1</span><span class="o">1</span></div>
<div class="ln" style="left:805.20px;top:423.10px;width:63.70px;height:352.60px;background:linear-gradient(to bottom,rgb(168, 126, 128) 0px,rgb(162, 120, 122) 8px,rgb(146, 109, 111) 12px,rgb(132, 100, 102) 16px,rgb(124, 95, 98) 22px,rgb(128, 98, 101) 27px,rgb(152, 118, 121) 33px,rgb(180, 130, 126) 42px,rgb(186, 127, 118) 62px,rgb(186, 127, 118) 220px,rgb(188, 139, 148) 265px,rgb(190, 150, 174) 300px,rgb(190, 150, 174) 352px)">
<i style="left:6.4px;top:287.6px;width:51.0px;height:5.9px;background:rgba(155,148,146,0.8);border-radius:2.9px;filter:blur(2.4000000000000004px)"></i>
<i style="left:6.4px;top:333.5px;width:51.0px;height:3.9px;background:rgba(205,140,110,0.4);border-radius:2.0px;filter:blur(2.4000000000000004px)"></i>
</div>
<div class="t num" style="left:817.9px;top:786.7px"><span class="o">1</span>2</div>
<div class="ln" style="left:872.20px;top:423.10px;width:63.70px;height:352.60px;background:linear-gradient(to bottom,rgb(168, 126, 128) 0px,rgb(162, 120, 122) 8px,rgb(146, 109, 111) 12px,rgb(132, 100, 102) 16px,rgb(124, 95, 98) 22px,rgb(128, 98, 101) 27px,rgb(152, 118, 121) 33px,rgb(180, 130, 126) 42px,rgb(186, 126, 118) 62px,rgb(186, 126, 118) 220px,rgb(188, 140, 149) 265px,rgb(190, 152, 176) 300px,rgb(190, 152, 176) 352px)">
<i style="left:15.9px;top:43.5px;width:51.0px;height:18.2px;background:rgba(220,140,115,0.75);border-radius:9.1px;filter:blur(9.600000000000001px)"></i>
<i style="left:0.0px;top:76.6px;width:63.7px;height:13.0px;background:rgba(215,140,120,0.4);border-radius:6.5px;filter:blur(9.600000000000001px)"></i>
<i style="left:6.4px;top:225.5px;width:51.0px;height:4.5px;background:rgba(160,150,125,0.8);border-radius:2.3px;filter:blur(2.4000000000000004px)"></i>
<i style="left:6.4px;top:235.8px;width:51.0px;height:6.5px;background:rgba(200,150,85,1);border-radius:3.2px;filter:blur(2.4000000000000004px)"></i>
<i style="left:6.4px;top:270.9px;width:51.0px;height:3.9px;background:rgba(160,150,125,0.6);border-radius:2.0px;filter:blur(2.4000000000000004px)"></i>
<i style="left:6.4px;top:287.2px;width:51.0px;height:6.5px;background:rgba(160,130,105,1);border-radius:3.2px;filter:blur(2.4000000000000004px)"></i>
<i style="left:6.4px;top:302.4px;width:51.0px;height:5.2px;background:rgba(185,165,190,0.6);border-radius:2.6px;filter:blur(2.4000000000000004px)"></i>
</div>
<div class="t num" style="left:884.0px;top:786.7px"><span class="o">1</span>3</div>
<div class="ln" style="left:939.20px;top:423.10px;width:63.70px;height:352.60px;background:linear-gradient(to bottom,rgb(168, 126, 128) 0px,rgb(162, 120, 122) 8px,rgb(146, 109, 111) 12px,rgb(132, 100, 102) 16px,rgb(124, 95, 98) 22px,rgb(128, 98, 101) 27px,rgb(152, 118, 121) 33px,rgb(172, 136, 138) 42px,rgb(172, 136, 138) 62px,rgb(172, 136, 138) 220px,rgb(181, 149, 164) 265px,rgb(190, 160, 186) 300px,rgb(190, 160, 186) 352px)">
<i style="left:6.4px;top:155.4px;width:51.0px;height:6.5px;background:rgba(160,150,130,0.8);border-radius:3.2px;filter:blur(2.4000000000000004px)"></i>
<i style="left:3.8px;top:195.3px;width:58.0px;height:11.7px;background:rgba(240,218,200,0.95);border-radius:5.9px;filter:blur(4.800000000000001px)"></i>
<i style="left:6.4px;top:226.8px;width:51.0px;height:5.2px;background:rgba(160,150,125,0.9);border-radius:2.6px;filter:blur(2.4000000000000004px)"></i>
<i style="left:6.4px;top:238.7px;width:51.0px;height:3.9px;background:rgba(185,165,140,0.4);border-radius:2.0px;filter:blur(2.4000000000000004px)"></i>
<i style="left:6.4px;top:301.7px;width:51.0px;height:6.5px;background:rgba(195,170,190,0.5);border-radius:3.2px;filter:blur(2.4000000000000004px)"></i>
</div>
<div class="t num" style="left:957.4px;top:786.7px"><span class="o">1</span>4</div>
<div class="t let" style="left:16.7px;top:418.4px;transform:scaleX(0.94);transform-origin:0 0">C</div>
<div class="k" style="left:52.85px;top:438.70px;width:1.5px;height:321.50px"></div>
<div class="k" style="left:50.00px;top:437.95px;width:7.2px;height:1.5px"></div>
<div class="k" style="left:50.00px;top:759.45px;width:7.2px;height:1.5px"></div>
<div class="k" style="left:50.60px;top:727.35px;width:6px;height:1.4px"></div>
<div class="t tk" style="left:26.3px;width:22.5px;text-align:right;top:723.2px;transform-origin:100% 50%">0.1</div>
<div class="k" style="left:50.60px;top:695.20px;width:6px;height:1.4px"></div>
<div class="t tk" style="left:26.3px;width:22.5px;text-align:right;top:691.0px;transform-origin:100% 50%">0.2</div>
<div class="k" style="left:50.60px;top:663.05px;width:6px;height:1.4px"></div>
<div class="t tk" style="left:26.3px;width:22.5px;text-align:right;top:658.9px;transform-origin:100% 50%">0.3</div>
<div class="k" style="left:50.60px;top:630.90px;width:6px;height:1.4px"></div>
<div class="t tk" style="left:26.3px;width:22.5px;text-align:right;top:626.7px;transform-origin:100% 50%">0.4</div>
<div class="k" style="left:50.60px;top:598.75px;width:6px;height:1.4px"></div>
<div class="t tk" style="left:26.3px;width:22.5px;text-align:right;top:594.6px;transform-origin:100% 50%">0.5</div>
<div class="k" style="left:50.60px;top:566.60px;width:6px;height:1.4px"></div>
<div class="t tk" style="left:26.3px;width:22.5px;text-align:right;top:562.4px;transform-origin:100% 50%">0.6</div>
<div class="k" style="left:50.60px;top:534.45px;width:6px;height:1.4px"></div>
<div class="t tk" style="left:26.3px;width:22.5px;text-align:right;top:530.3px;transform-origin:100% 50%">0.7</div>
<div class="k" style="left:50.60px;top:502.30px;width:6px;height:1.4px"></div>
<div class="t tk" style="left:26.3px;width:22.5px;text-align:right;top:498.1px;transform-origin:100% 50%">0.8</div>
<div class="k" style="left:50.60px;top:470.15px;width:6px;height:1.4px"></div>
<div class="t tk" style="left:26.3px;width:22.5px;text-align:right;top:465.9px;transform-origin:100% 50%">0.9</div>
<div class="t rf" style="left:25.6px;width:24px;text-align:right;top:434.7px"><em>R</em><small>F</small></div>
<div class="k" style="left:1014.65px;top:438.70px;width:1.5px;height:321.50px"></div>
<div class="k" style="left:1011.80px;top:437.95px;width:7.2px;height:1.5px"></div>
<div class="k" style="left:1011.80px;top:759.45px;width:7.2px;height:1.5px"></div>
<div class="k" style="left:1012.40px;top:727.35px;width:6px;height:1.4px"></div>
<div class="t tk" style="left:1020.2px;top:723.2px;transform-origin:0 50%">0.1</div>
<div class="k" style="left:1012.40px;top:695.20px;width:6px;height:1.4px"></div>
<div class="t tk" style="left:1020.2px;top:691.0px;transform-origin:0 50%">0.2</div>
<div class="k" style="left:1012.40px;top:663.05px;width:6px;height:1.4px"></div>
<div class="t tk" style="left:1020.2px;top:658.9px;transform-origin:0 50%">0.3</div>
<div class="k" style="left:1012.40px;top:630.90px;width:6px;height:1.4px"></div>
<div class="t tk" style="left:1020.2px;top:626.7px;transform-origin:0 50%">0.4</div>
<div class="k" style="left:1012.40px;top:598.75px;width:6px;height:1.4px"></div>
<div class="t tk" style="left:1020.2px;top:594.6px;transform-origin:0 50%">0.5</div>
<div class="k" style="left:1012.40px;top:566.60px;width:6px;height:1.4px"></div>
<div class="t tk" style="left:1020.2px;top:562.4px;transform-origin:0 50%">0.6</div>
<div class="k" style="left:1012.40px;top:534.45px;width:6px;height:1.4px"></div>
<div class="t tk" style="left:1020.2px;top:530.3px;transform-origin:0 50%">0.7</div>
<div class="k" style="left:1012.40px;top:502.30px;width:6px;height:1.4px"></div>
<div class="t tk" style="left:1020.2px;top:498.1px;transform-origin:0 50%">0.8</div>
<div class="k" style="left:1012.40px;top:470.15px;width:6px;height:1.4px"></div>
<div class="t tk" style="left:1020.2px;top:465.9px;transform-origin:0 50%">0.9</div>
<div class="t rf" style="left:1021.4px;top:434.7px"><em>R</em><small>F</small></div>
<div class="ln" style="left:1093.90px;top:422.90px;width:63.60px;height:352.50px;background:linear-gradient(to bottom,rgb(0,88,190) 0px,rgb(0,79,180) 6px,rgb(0,64,150) 14px,rgb(0,62,147) 60px,rgb(0,64,150) 150px,rgb(0,59,140) 210px,rgb(0,51,124) 260px,rgb(0,43,105) 300px,rgb(0,36,89) 330px,rgb(0,32,78) 345px,rgb(0,28,70) 352px)">
</div>
<div class="t num" style="left:1114.8px;top:786.7px"><span class="o">1</span></div>
<div class="ln" style="left:1160.85px;top:422.90px;width:63.60px;height:352.50px;background:linear-gradient(to bottom,rgb(0,90,195) 0px,rgb(0,80,184) 6px,rgb(0,67,157) 14px,rgb(0,65,154) 60px,rgb(0,67,157) 150px,rgb(0,62,147) 210px,rgb(0,53,130) 260px,rgb(0,45,110) 300px,rgb(0,38,94) 330px,rgb(0,33,82) 345px,rgb(0,30,73) 352px)">
</div>
<div class="t num" style="left:1185.6px;top:786.7px">2</div>
<div class="ln" style="left:1227.80px;top:422.90px;width:63.60px;height:352.50px;background:linear-gradient(to bottom,rgb(0,93,201) 0px,rgb(0,83,190) 6px,rgb(0,72,169) 14px,rgb(0,70,165) 60px,rgb(0,72,169) 150px,rgb(0,66,157) 210px,rgb(0,57,139) 260px,rgb(0,48,118) 300px,rgb(0,41,100) 330px,rgb(0,36,88) 345px,rgb(0,32,79) 352px)">
<i style="left:12.7px;top:38.9px;width:47.7px;height:9.0px;background:rgba(0,30,80,0.3);border-radius:4.5px;filter:blur(4.5px)"></i>
</div>
<div class="t num" style="left:1251.5px;top:786.7px">3</div>
<div class="ln" style="left:1294.75px;top:422.90px;width:63.60px;height:352.50px;background:linear-gradient(to bottom,rgb(0,97,209) 0px,rgb(0,87,198) 6px,rgb(0,78,184) 14px,rgb(0,76,180) 60px,rgb(0,78,184) 150px,rgb(0,72,171) 210px,rgb(0,62,151) 260px,rgb(0,52,129) 300px,rgb(0,45,109) 330px,rgb(0,39,96) 345px,rgb(0,35,86) 352px)">
<i style="left:9.5px;top:309.8px;width:46.4px;height:22.0px;background:rgba(0,35,90,0.6);border-radius:5.0px;filter:blur(1.5px)"></i>
</div>
<div class="t num" style="left:1317.8px;top:786.7px">4</div>
<div class="ln" style="left:1361.70px;top:422.90px;width:63.60px;height:352.50px;background:linear-gradient(to bottom,rgb(0,98,214) 0px,rgb(0,88,202) 6px,rgb(0,81,191) 14px,rgb(0,79,187) 60px,rgb(0,81,191) 150px,rgb(0,75,178) 210px,rgb(0,65,158) 260px,rgb(0,55,134) 300px,rgb(0,46,114) 330px,rgb(0,40,99) 345px,rgb(0,36,89) 352px)">
</div>
<div class="t num" style="left:1384.2px;top:786.7px">5</div>
<div class="ln" style="left:1428.65px;top:422.90px;width:63.60px;height:352.50px;background:linear-gradient(to bottom,rgb(0,98,212) 0px,rgb(0,88,200) 6px,rgb(0,80,188) 14px,rgb(0,78,184) 60px,rgb(0,80,188) 150px,rgb(0,74,175) 210px,rgb(0,64,155) 260px,rgb(0,54,132) 300px,rgb(0,46,112) 330px,rgb(0,40,98) 345px,rgb(0,36,88) 352px)">
<i style="left:12.7px;top:63.6px;width:44.5px;height:14.0px;background:rgba(0,30,80,0.15);border-radius:7.0px;filter:blur(6.0px)"></i>
</div>
<div class="t num" style="left:1457.8px;top:786.7px">6</div>
<div class="ln" style="left:1495.60px;top:422.90px;width:63.60px;height:352.50px;background:linear-gradient(to bottom,rgb(0,97,210) 0px,rgb(0,87,199) 6px,rgb(0,79,186) 14px,rgb(0,77,182) 60px,rgb(0,79,186) 150px,rgb(0,73,173) 210px,rgb(0,63,153) 260px,rgb(0,53,130) 300px,rgb(0,45,110) 330px,rgb(0,39,97) 345px,rgb(0,35,87) 352px)">
<i style="left:6.4px;top:98.7px;width:52.2px;height:40.0px;background:rgba(0,30,80,0.5);border-radius:12.0px;filter:blur(8px)"></i>
<i style="left:6.4px;top:131.0px;width:52.2px;height:14.0px;background:rgba(0,30,80,0.25);border-radius:7.0px;filter:blur(5.0px)"></i>
<i style="left:5.1px;top:192.3px;width:54.7px;height:58.0px;background:rgba(0,30,80,0.65);border-radius:28.0px;filter:blur(12px)"></i>
</div>
<div class="t num" style="left:1520.8px;top:786.7px">7</div>
<div class="ln" style="left:1562.55px;top:422.90px;width:63.60px;height:352.50px;background:linear-gradient(to bottom,rgb(0,98,212) 0px,rgb(0,88,200) 6px,rgb(0,80,188) 14px,rgb(0,78,184) 60px,rgb(0,80,188) 150px,rgb(0,74,175) 210px,rgb(0,64,155) 260px,rgb(0,54,132) 300px,rgb(0,46,112) 330px,rgb(0,40,98) 345px,rgb(0,36,88) 352px)">
<i style="left:12.7px;top:46.8px;width:44.5px;height:22.0px;background:rgba(0,30,80,0.2);border-radius:11.0px;filter:blur(8.0px)"></i>
<i style="left:14.0px;top:92.5px;width:3.8px;height:3.0px;background:rgba(0,20,50,0.9);border-radius:1.5px;filter:blur(0.8px)"></i>
</div>
<div class="t num" style="left:1587.5px;top:786.7px">8</div>
<div class="ln" style="left:1629.50px;top:422.90px;width:63.60px;height:352.50px;background:linear-gradient(to bottom,rgb(0,98,212) 0px,rgb(0,88,200) 6px,rgb(0,80,188) 14px,rgb(0,78,184) 60px,rgb(0,80,188) 150px,rgb(0,74,175) 210px,rgb(0,64,155) 260px,rgb(0,54,132) 300px,rgb(0,46,112) 330px,rgb(0,40,98) 345px,rgb(0,36,88) 352px)">
</div>
<div class="t num" style="left:1653.5px;top:786.7px">9</div>
<div class="ln" style="left:1696.45px;top:422.90px;width:63.60px;height:352.50px;background:linear-gradient(to bottom,rgb(0,97,209) 0px,rgb(0,87,198) 6px,rgb(0,78,184) 14px,rgb(0,76,180) 60px,rgb(0,78,184) 150px,rgb(0,72,171) 210px,rgb(0,62,151) 260px,rgb(0,52,129) 300px,rgb(0,45,109) 330px,rgb(0,39,96) 345px,rgb(0,35,86) 352px)">
<i style="left:15.9px;top:31.5px;width:50.9px;height:14.0px;background:rgba(0,30,80,0.25);border-radius:7.0px;filter:blur(5.0px)"></i>
</div>
<div class="t num" style="left:1711.7px;top:786.7px"><span class="o">1</span>0</div>
<div class="ln" style="left:1763.40px;top:422.90px;width:63.60px;height:352.50px;background:linear-gradient(to bottom,rgb(0,96,208) 0px,rgb(0,86,197) 6px,rgb(0,77,182) 14px,rgb(0,75,178) 60px,rgb(0,77,182) 150px,rgb(0,71,169) 210px,rgb(0,62,150) 260px,rgb(0,52,128) 300px,rgb(0,44,108) 330px,rgb(0,38,95) 345px,rgb(0,34,85) 352px)">
<i style="left:-3.2px;top:26.5px;width:41.3px;height:8.0px;background:rgba(0,30,80,0.25);border-radius:4.0px;filter:blur(4.0px)"></i>
<i style="left:9.5px;top:96.4px;width:44.5px;height:3.0px;background:rgba(0,30,80,0.3);border-radius:1.5px;filter:blur(1.8px)"></i>
</div>
<div class="t num" style="left:1777.2px;top:786.7px"><span class="o">1</span><span class="o">1</span></div>
<div class="ln" style="left:1830.35px;top:422.90px;width:63.60px;height:352.50px;background:linear-gradient(to bottom,rgb(0,97,209) 0px,rgb(0,87,198) 6px,rgb(0,78,184) 14px,rgb(0,76,180) 60px,rgb(0,78,184) 150px,rgb(0,72,171) 210px,rgb(0,62,151) 260px,rgb(0,52,129) 300px,rgb(0,45,109) 330px,rgb(0,39,96) 345px,rgb(0,35,86) 352px)">
<i style="left:12.7px;top:72.4px;width:57.2px;height:22.0px;background:rgba(0,30,80,0.5);border-radius:11.0px;filter:blur(9.0px)"></i>
</div>
<div class="t num" style="left:1842.3px;top:786.7px"><span class="o">1</span>2</div>
<div class="ln" style="left:1897.30px;top:422.90px;width:63.60px;height:352.50px;background:linear-gradient(to bottom,rgb(0,96,207) 0px,rgb(0,86,196) 6px,rgb(0,76,180) 14px,rgb(0,74,176) 60px,rgb(0,76,180) 150px,rgb(0,71,168) 210px,rgb(0,61,148) 260px,rgb(0,51,126) 300px,rgb(0,44,107) 330px,rgb(0,38,94) 345px,rgb(0,34,84) 352px)">
<i style="left:0.0px;top:56.0px;width:60.4px;height:26.0px;background:rgba(0,30,80,0.6);border-radius:12.0px;filter:blur(9.0px)"></i>
</div>
<div class="t num" style="left:1908.5px;top:786.7px"><span class="o">1</span>3</div>
<div class="ln" style="left:1964.25px;top:422.90px;width:63.60px;height:352.50px;background:linear-gradient(to bottom,rgb(0,95,205) 0px,rgb(0,85,194) 6px,rgb(0,75,176) 14px,rgb(0,73,172) 60px,rgb(0,75,176) 150px,rgb(0,69,164) 210px,rgb(0,60,145) 260px,rgb(0,50,124) 300px,rgb(0,43,105) 330px,rgb(0,37,92) 345px,rgb(0,33,82) 352px)">
<i style="left:3.2px;top:217.0px;width:59.1px;height:10.0px;background:rgba(0,30,80,0.5);border-radius:5.0px;filter:blur(4.5px)"></i>
</div>
<div class="t num" style="left:1982.0px;top:786.7px"><span class="o">1</span>4</div>
<div class="t let" style="left:1043.9px;top:404.0px;transform:scaleX(0.95);transform-origin:0 0">D</div>
<div class="k" style="left:1079.25px;top:439.00px;width:1.5px;height:320.70px"></div>
<div class="k" style="left:1076.40px;top:438.25px;width:7.2px;height:1.5px"></div>
<div class="k" style="left:1076.40px;top:758.95px;width:7.2px;height:1.5px"></div>
<div class="k" style="left:1077.00px;top:726.93px;width:6px;height:1.4px"></div>
<div class="t tk" style="left:1052.7px;width:22.5px;text-align:right;top:722.7px;transform-origin:100% 50%">0.1</div>
<div class="k" style="left:1077.00px;top:694.86px;width:6px;height:1.4px"></div>
<div class="t tk" style="left:1052.7px;width:22.5px;text-align:right;top:690.7px;transform-origin:100% 50%">0.2</div>
<div class="k" style="left:1077.00px;top:662.79px;width:6px;height:1.4px"></div>
<div class="t tk" style="left:1052.7px;width:22.5px;text-align:right;top:658.6px;transform-origin:100% 50%">0.3</div>
<div class="k" style="left:1077.00px;top:630.72px;width:6px;height:1.4px"></div>
<div class="t tk" style="left:1052.7px;width:22.5px;text-align:right;top:626.5px;transform-origin:100% 50%">0.4</div>
<div class="k" style="left:1077.00px;top:598.65px;width:6px;height:1.4px"></div>
<div class="t tk" style="left:1052.7px;width:22.5px;text-align:right;top:594.5px;transform-origin:100% 50%">0.5</div>
<div class="k" style="left:1077.00px;top:566.58px;width:6px;height:1.4px"></div>
<div class="t tk" style="left:1052.7px;width:22.5px;text-align:right;top:562.4px;transform-origin:100% 50%">0.6</div>
<div class="k" style="left:1077.00px;top:534.51px;width:6px;height:1.4px"></div>
<div class="t tk" style="left:1052.7px;width:22.5px;text-align:right;top:530.3px;transform-origin:100% 50%">0.7</div>
<div class="k" style="left:1077.00px;top:502.44px;width:6px;height:1.4px"></div>
<div class="t tk" style="left:1052.7px;width:22.5px;text-align:right;top:498.2px;transform-origin:100% 50%">0.8</div>
<div class="k" style="left:1077.00px;top:470.37px;width:6px;height:1.4px"></div>
<div class="t tk" style="left:1052.7px;width:22.5px;text-align:right;top:466.2px;transform-origin:100% 50%">0.9</div>
<div class="t rf" style="left:1052.0px;width:24px;text-align:right;top:435.0px"><em>R</em><small>F</small></div>
<div class="k" style="left:2040.45px;top:439.00px;width:1.5px;height:320.70px"></div>
<div class="k" style="left:2037.60px;top:438.25px;width:7.2px;height:1.5px"></div>
<div class="k" style="left:2037.60px;top:758.95px;width:7.2px;height:1.5px"></div>
<div class="k" style="left:2038.20px;top:726.93px;width:6px;height:1.4px"></div>
<div class="t tk" style="left:2046.0px;top:722.7px;transform-origin:0 50%">0.1</div>
<div class="k" style="left:2038.20px;top:694.86px;width:6px;height:1.4px"></div>
<div class="t tk" style="left:2046.0px;top:690.7px;transform-origin:0 50%">0.2</div>
<div class="k" style="left:2038.20px;top:662.79px;width:6px;height:1.4px"></div>
<div class="t tk" style="left:2046.0px;top:658.6px;transform-origin:0 50%">0.3</div>
<div class="k" style="left:2038.20px;top:630.72px;width:6px;height:1.4px"></div>
<div class="t tk" style="left:2046.0px;top:626.5px;transform-origin:0 50%">0.4</div>
<div class="k" style="left:2038.20px;top:598.65px;width:6px;height:1.4px"></div>
<div class="t tk" style="left:2046.0px;top:594.5px;transform-origin:0 50%">0.5</div>
<div class="k" style="left:2038.20px;top:566.58px;width:6px;height:1.4px"></div>
<div class="t tk" style="left:2046.0px;top:562.4px;transform-origin:0 50%">0.6</div>
<div class="k" style="left:2038.20px;top:534.51px;width:6px;height:1.4px"></div>
<div class="t tk" style="left:2046.0px;top:530.3px;transform-origin:0 50%">0.7</div>
<div class="k" style="left:2038.20px;top:502.44px;width:6px;height:1.4px"></div>
<div class="t tk" style="left:2046.0px;top:498.2px;transform-origin:0 50%">0.8</div>
<div class="k" style="left:2038.20px;top:470.37px;width:6px;height:1.4px"></div>
<div class="t tk" style="left:2046.0px;top:466.2px;transform-origin:0 50%">0.9</div>
<div class="t rf" style="left:2047.2px;top:435.0px"><em>R</em><small>F</small></div>
<div style="position:absolute;left:49.8px;top:40.05px;width:963.9px;height:1.7px;background:repeating-linear-gradient(to right,#e8e800 0 5.3px,transparent 5.3px 8.94px)"></div>
<div style="position:absolute;left:49.8px;top:360.75px;width:963.9px;height:1.7px;background:repeating-linear-gradient(to right,#e8e800 0 5.3px,transparent 5.3px 8.94px)"></div>
<div style="position:absolute;left:1075.5px;top:40.05px;width:963.7px;height:1.7px;background:repeating-linear-gradient(to right,#1a1a1a 0 5.3px,transparent 5.3px 8.94px)"></div>
<div style="position:absolute;left:1075.5px;top:360.85px;width:963.7px;height:1.7px;background:repeating-linear-gradient(to right,#1a1a1a 0 5.3px,transparent 5.3px 8.94px)"></div>
<div style="position:absolute;left:51.1px;top:437.85px;width:963.8px;height:1.7px;background:repeating-linear-gradient(to right,#1a1a1a 0 5.3px,transparent 5.3px 8.94px)"></div>
<div style="position:absolute;left:51.1px;top:759.35px;width:963.8px;height:1.7px;background:repeating-linear-gradient(to right,#1a1a1a 0 5.3px,transparent 5.3px 8.94px)"></div>
<div style="position:absolute;left:1077.5px;top:438.27px;width:963.2px;height:1.45px;background:repeating-linear-gradient(to right,#e8e800 0 5.3px,transparent 5.3px 8.94px)"></div>
<div style="position:absolute;left:1077.5px;top:758.98px;width:963.2px;height:1.45px;background:repeating-linear-gradient(to right,#e8e800 0 5.3px,transparent 5.3px 8.94px)"></div>
</body></html>
